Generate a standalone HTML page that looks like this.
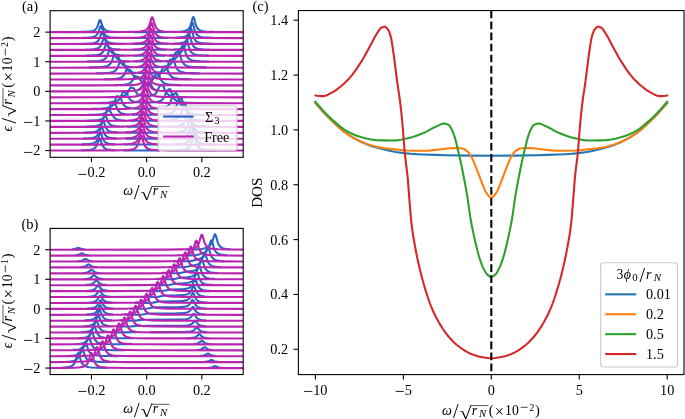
<!DOCTYPE html>
<html lang="en"><head><meta charset="utf-8"><title>Figure</title>
<style>html,body{margin:0;padding:0;background:#fff}svg{display:block;will-change:transform}</style></head>
<body>
<svg width="685" height="419" viewBox="0 0 685 419" font-family='"Liberation Serif", "DejaVu Serif", serif' fill="#000">
<rect width="685" height="419" fill="#fff"/>
<clipPath id="ca"><rect x="50.1" y="10.7" width="193.1" height="146.6"/></clipPath>
<g clip-path="url(#ca)" fill="none" stroke-width="2.15" stroke-linejoin="round">
<path d="M81,150.3L86.4,150.1L90,149.8L91.3,149.5L92.4,149.2L93.4,148.9L94.2,148.4L94.9,147.9L95.5,147.3L96,146.6L96.4,145.9L97,144.8L97.4,143.8L98.9,139.3L99.3,138.6L99.6,138.4L99.9,138.6L100.3,139.3L101.8,143.8L102.7,145.7L103.5,147L104,147.6L104.6,148.1L105.3,148.6L106.1,149L107.1,149.3L108.2,149.6L110.9,150L114.8,150.2M123.8,150.4L139.2,150.5L159.8,150.4M175.1,150.3L180.4,150L182.4,149.8L184,149.6L185.4,149.3L186.5,148.9L187.5,148.4L188.3,147.9L189,147.2L189.5,146.5L190.1,145.6L190.5,144.8L191.1,143.4L191.5,142.1L193,136.5L193.4,135.6L193.7,135.4L194,135.6L194.4,136.5L195.9,142.1L196.3,143.4L196.9,144.8L197.4,145.9L198,146.7L198.6,147.5L199.3,148.1L200.3,148.7L201.4,149.1L202.6,149.5L204.2,149.7L206,149.9L208.3,150.1L214.8,150.3" stroke="#2a65c4" stroke-width="2.1"/>
<path d="M81.8,144.4L87.1,144.2L90.7,143.9L92,143.6L93.1,143.4L94.1,143L94.9,142.5L95.6,142L96.2,141.5L96.7,140.8L97.3,139.9L98.1,138.1L99.8,133.2L100.2,132.6L100.4,132.5L100.7,132.7L101.1,133.5L102.5,137.6L103.3,139.6L103.8,140.3L104.3,141.1L104.9,141.8L105.4,142.2L106.1,142.7L106.9,143.1L107.9,143.4L109,143.7L111.8,144.1L115.6,144.3M124.3,144.5L139.9,144.5L160.2,144.5M174.5,144.3L179.8,144.1L181.7,143.9L183.2,143.7L184.6,143.4L185.7,143L186.6,142.6L187.5,142L188.2,141.4L188.7,140.7L189.3,139.8L189.8,138.7L190.6,136.3L192.2,130.7L192.6,129.7L192.9,129.5L193,129.5L193.1,129.6L193.5,130.4L195.2,136.4L195.6,137.7L196.2,139.1L196.7,140.1L197.3,140.9L198,141.7L198.6,142.2L199.6,142.8L200.7,143.2L202,143.6L203.5,143.8L205.3,144L207.6,144.2L214,144.4" stroke="#2a65c4" stroke-width="2.1"/>
<path d="M82.9,138.5L88.2,138.3L91.8,138L93.1,137.7L94.2,137.4L95.2,137.1L96,136.6L96.7,136.1L97.3,135.6L97.8,134.9L98.4,134L99.2,132.1L100.9,127.3L101.3,126.7L101.5,126.6L101.8,126.8L102.2,127.6L103.6,131.7L104.4,133.7L104.9,134.4L105.4,135.2L106,135.8L106.5,136.3L107.2,136.8L108,137.2L109,137.5L110,137.7L112.7,138.1L116.6,138.4M125,138.6L140.6,138.6L160.4,138.6M173.5,138.4L178.6,138.2L180.6,138L182.1,137.8L183.5,137.5L184.6,137.1L185.5,136.6L186.4,136.1L187.1,135.4L187.6,134.8L188.2,133.9L188.7,132.8L189.5,130.4L191.1,124.8L191.5,123.8L191.8,123.5L191.9,123.5L192,123.6L192.4,124.5L194.1,130.5L194.5,131.8L195.1,133.1L195.6,134.2L196.2,135L196.9,135.7L197.5,136.3L198.5,136.9L199.6,137.3L200.9,137.6L202.4,137.9L204.2,138.1L206.5,138.3L212.9,138.5" stroke="#2a65c4" stroke-width="2.1"/>
<path d="M84.4,132.6L89.7,132.4L93.3,132L94.7,131.8L95.8,131.5L96.7,131.2L97.5,130.7L98.2,130.2L98.8,129.7L99.3,129L99.9,128.1L100.4,126.9L100.9,125.9L102.4,121.4L102.8,120.8L103.1,120.6L103.3,120.8L103.8,121.6L105.1,125.7L106,127.7L106.8,129.1L107.3,129.8L107.9,130.3L108.6,130.8L109.4,131.2L110.2,131.5L111.3,131.8L114.1,132.2L118,132.4M125.8,132.6L141.4,132.7L160.7,132.7M172.4,132.5L177.4,132.2L179.3,132L180.9,131.8L182.1,131.5L183.2,131.1L184.2,130.6L185,130L185.7,129.3L186.2,128.6L186.8,127.7L187.2,126.8L188,124.4L189.5,118.8L190,117.9L190.2,117.6L190.4,117.6L190.5,117.7L190.9,118.6L192.6,124.6L193,125.9L193.5,127.2L194.1,128.3L194.6,129.1L195.3,129.8L196,130.4L197,131L198.1,131.4L199.3,131.7L200.9,132L202.6,132.2L205,132.4L211.3,132.6" stroke="#2a65c4" stroke-width="2.1"/>
<path d="M86.7,126.6L91.9,126.4L95.5,126.1L96.9,125.9L98,125.6L98.9,125.2L99.8,124.7L100.4,124.2L101,123.7L101.5,122.9L102.1,122L102.9,120.1L104.4,115.6L104.9,114.9L105.1,114.7L105.4,114.9L105.8,115.6L107.3,120L108.2,122L109,123.3L109.5,123.9L110.1,124.4L110.8,124.9L111.6,125.3L112.4,125.6L113.5,125.9L116.2,126.3L119.8,126.5M126.8,126.7L142.1,126.8L160.7,126.7M170.8,126.5L175.6,126.3L177.4,126.1L178.9,125.8L180.2,125.5L181.3,125.1L182.1,124.7L182.9,124.1L183.6,123.4L184.2,122.6L184.7,121.7L185.1,120.7L186,118.3L187.5,112.7L187.9,111.9L188.2,111.7L188.4,111.9L188.9,112.8L190.4,118.4L190.8,119.7L191.3,121.1L191.9,122.2L192.4,123.1L193.1,123.8L193.8,124.4L194.8,125L195.9,125.4L197.1,125.8L198.6,126.1L200.4,126.3L202.8,126.4L209.1,126.7" stroke="#2a65c4" stroke-width="2.1"/>
<path d="M86.5,120.7L93,120.5L95.3,120.4L97.3,120.2L98.8,119.9L100.2,119.6L101.3,119.2L102.2,118.7L103.1,118.1L103.8,117.4L104.3,116.7L104.9,115.8L105.4,114.6L105.8,113.5L107.3,108.7L107.8,107.9L108,107.6L108.2,107.6L108.4,107.7L108.7,108.1L110.2,111.4L113.1,116.2L114,117.3L114.9,118.3L115.6,118.7L116.4,119.2L117.4,119.5L118.4,119.8L119.6,120L121.1,120.2L124.9,120.5M129.3,120.7L143.1,120.8L159.2,120.7M165.4,120.6L170.2,120.3L172.2,120.1L173.7,119.8L175.1,119.5L176.2,119.1L177.1,118.6L178,118L178.5,117.5L179.1,116.8L180,115.3L183.1,109L184.6,104.9L184.9,104.5L185.1,104.3L185.4,104.4L185.8,105.3L186.2,106.7L187.6,112.2L188,113.4L188.6,114.8L189.1,115.9L189.8,117L190.5,117.7L191.3,118.4L192.4,119L193.7,119.5L195.2,119.8L197,120.1L199.2,120.3L202,120.5L209.7,120.7" stroke="#2a65c4" stroke-width="2.1"/>
<path d="M88,114.8L95.3,114.6L100.2,114.2L102,114L103.5,113.7L104.7,113.3L105.8,112.8L106.7,112.2L107.3,111.6L108,110.8L108.6,109.9L109.1,108.9L109.7,107.5L111.3,102.5L111.8,101.8L111.9,101.7L112.2,101.5L112.6,101.7L113.7,103L114.9,104.1L115.3,104.6L115.9,105.6L117.1,108.5L118,110.1L118.9,111.4L119.9,112.3L120.6,112.7L121.4,113.1L122.4,113.5L123.3,113.7L125.8,114.2L129.1,114.5M131.8,114.6L137,114.7L143.9,114.8L151.6,114.7L157.8,114.6M161.4,114.5L165.8,114.2L167.5,114L169,113.7L170.2,113.4L171.3,113L172.3,112.4L173.1,111.9L173.8,111.2L174.4,110.5L174.9,109.7L175.3,108.9L176.2,106.9L177.5,102.9L178.1,101.8L178.5,101.3L179.6,100.1L180.7,98.5L181,98.3L181.1,98.2L181.4,98.4L181.5,98.6L182,99.5L183.6,105.7L184.2,107.4L184.7,108.7L185.4,110L186.1,111L186.9,111.8L187.9,112.5L189,113.1L190.4,113.5L192,113.9L194.1,114.2L196.6,114.4L199.6,114.6L208.3,114.8" stroke="#2a65c4" stroke-width="2.1"/>
<path d="M92.2,108.9L99.8,108.7L104.7,108.3L106.7,108.1L108.2,107.8L109.5,107.4L110.7,106.9L111.5,106.4L112.3,105.7L113,105L113.5,104.2L114.1,103.2L114.7,101.9L116,98L116.4,97L116.9,96.4L117.3,96.2L117.7,96.3L118.7,96.9L119.8,97.2L120,97.4L120.3,97.7L120.9,98.7L122.2,102.1L122.9,103.6L123.9,105L124.4,105.6L125,106.1L125.7,106.6L126.4,107L128,107.6L130.1,108L132.7,108.3M134,108.4L138.5,108.6L144.6,108.7L151.2,108.7L156.4,108.5M158.2,108.4L161.8,108L163.2,107.8L164.4,107.5L165.5,107.2L166.5,106.7L167.3,106.2L168,105.7L168.7,105L169.3,104.3L169.8,103.4L170.2,102.6L171.1,100.4L172.4,96.1L173,94.9L173.3,94.5L173.5,94.3L174.6,93.9L175.6,93.2L176,93L176.3,93.1L176.4,93.3L176.9,94.1L177.3,95.3L178.8,100.6L179.3,102.1L179.9,103.3L180.6,104.4L181.3,105.3L182.1,106L183.1,106.6L184.3,107.2L185.7,107.6L187.5,108L189.5,108.3L192,108.5L195.2,108.7L204.2,108.9" stroke="#2a65c4" stroke-width="2.1"/>
<path d="M99.9,102.9L106.8,102.8L111.5,102.4L113.1,102.2L114.7,101.9L115.9,101.6L117,101.1L117.8,100.7L118.5,100.2L119.2,99.5L119.8,98.8L120.3,97.9L120.9,96.8L122.5,92.8L122.8,92.3L123.1,92L123.5,91.8L123.9,91.9L124.9,92.4L126,92.7L126.2,92.9L126.5,93.1L127.1,94L128.3,96.7L129,98L129.8,99.2L130.8,100.2L131.8,100.8L132.9,101.3L134.2,101.8L135.9,102.1M136.3,102.1L138.1,102.3L140.2,102.5L145.3,102.6L150.8,102.5L155.1,102.2M155.6,102.2L157.8,101.8L159.6,101.3L161,100.7L161.7,100.2L162.2,99.8L163.2,98.7L163.8,97.9L164.2,97.1L164.9,95.6L166.2,91.8L166.8,90.7L167.1,90.4L167.3,90.2L168.4,89.8L169.4,89.2L169.8,89.1L170.1,89.2L170.2,89.3L170.5,89.7L170.8,90.3L172.4,95.3L173,96.7L173.5,97.8L174.2,98.8L174.9,99.6L175.8,100.3L176.6,100.8L177.8,101.4L179.2,101.8L180.9,102.1L182.8,102.4L185.1,102.6L188,102.7L196.2,103" stroke="#2a65c4" stroke-width="2.1"/>
<path d="M109.1,97L115.2,96.8L119.3,96.5L122.2,96.1L123.5,95.7L124.4,95.4L125.3,95L126,94.5L126.7,93.9L127.2,93.3L128.2,91.8L130,88.2L130.4,87.7L130.7,87.5L130.9,87.4L131.2,87.5L132.3,87.9L133.3,88.1L133.8,88.5L134.4,89.2L135.9,91.9L136.9,93.3L137.4,93.9L138.1,94.4L138.8,94.9L139.5,95.2L140.6,95.5L141.8,95.8L143.2,96L144.9,96.1L146.7,96.1L148.4,96L150.1,95.9L151.5,95.6L152.7,95.3L153.8,94.8L154.6,94.3L155.5,93.6L156.3,92.7L157,91.6L157.7,90.1L158.8,87.6L159.2,86.8L159.5,86.4L159.8,86.2L160,86L161,85.8L162.1,85.2L162.4,85.1L162.6,85.2L162.9,85.4L163.3,86L165.1,90.6L165.7,91.7L166.2,92.6L166.8,93.3L167.5,94L168.3,94.7L169.1,95.1L170.2,95.6L171.5,95.9L173,96.2L174.8,96.5L179.6,96.8L186.6,97" stroke="#2a65c4" stroke-width="2.1"/>
<path d="M138.4,89.8L139.1,89.5L139.6,89.1L140.6,88.3L141.4,87.1L142.8,84.8L143.3,84.2L143.6,84L144,84.1L144.3,84.3L145.3,85.3L145.7,85.7L146.2,85.9L146.7,85.9L147.1,85.7L147.5,85.4L148,84.7L149,83.2L149.4,82.8L149.7,82.7L150,82.8L150.4,83.3L152,86.6L152.6,87.5L153.1,88.2L153.8,88.9L154.5,89.4L155.3,89.8L156.4,90.2" stroke="#2a65c4" stroke-width="2.1"/>
<path d="M114,85.1L119.8,85L123.9,84.7L126.8,84.2L128,83.9L129,83.5L129.7,83.2L130.4,82.8L131.1,82.3L131.6,81.7L132.2,81L132.7,80.1L134.4,76.9L134.9,76.3L135.3,76.1L135.8,76.2L136.7,76.5L137.8,76.7L138.4,77.1L138.9,77.7L140.3,80L141,81L141.8,81.8L142.8,82.5L144,83L145.4,83.2L146.9,83.2L148.4,83L149.4,82.7L150.2,82.3L151.1,81.6L151.8,80.9L152.7,79.5L154.4,76L154.8,75.4L155.1,75.1L155.5,74.8L156.6,74.5L157.5,74.1L158,74L158.4,74.2L158.6,74.5L158.9,75L160.6,78.9L161.1,80L161.7,80.9L162.2,81.6L162.9,82.3L163.6,82.8L164.4,83.2L165.5,83.7L166.8,84.1L168.3,84.4L170,84.6L174.4,84.9L181,85.1" stroke="#2a65c4" stroke-width="2.1"/>
<path d="M104.4,79.3L111.1,79.1L115.5,78.8L117.1,78.6L118.7,78.3L119.9,78L120.9,77.6L121.7,77.2L122.4,76.7L123.1,76.1L123.6,75.5L124.2,74.7L124.7,73.7L126.5,69.8L126.9,69.2L127.2,69.1L127.5,69L127.9,69.1L128.7,69.5L129.8,69.8L130.4,70.1L130.7,70.5L131.1,71.1L132.2,73.4L132.9,74.6L133.7,75.7L134.5,76.5L135.3,77.1L136.4,77.6L137.5,77.9L138.9,78.2M139.2,78.3L141.3,78.5L143.9,78.7L146.8,78.7L149.5,78.6L151.8,78.4L153.7,78.2L155.2,77.8L156.6,77.3L157.5,76.8L158.4,76.2L159.1,75.6L159.8,74.7L160.7,72.9L162.2,69.2L162.6,68.3L162.9,67.9L163.2,67.6L163.5,67.5L164.6,67.1L165.4,66.6L165.8,66.5L166.1,66.6L166.4,66.8L166.8,67.5L168.6,72.3L169.1,73.6L169.7,74.6L170.2,75.3L170.9,76.1L171.8,76.8L172.6,77.3L173.7,77.7L174.9,78.1L176.4,78.4L178.4,78.7L183.3,79L190.8,79.3" stroke="#2a65c4" stroke-width="2.1"/>
<path d="M96,73.4L103.3,73.2L108.2,72.8L110.1,72.6L111.6,72.3L112.9,71.9L114,71.5L114.8,71L115.6,70.4L116.3,69.6L116.9,68.9L117.4,67.9L118,66.7L119.6,62.5L120,61.8L120.3,61.6L120.6,61.5L121,61.6L122,62.2L123.1,62.5L123.5,62.8L123.8,63.2L124.2,63.9L125.4,66.9L126.2,68.5L127.2,69.8L128.2,70.7L128.9,71.2L129.5,71.5L131.2,72.1L133.3,72.5L135.9,72.8M137.3,72.9L142.4,73.1L148.6,73.1L153.8,72.9L157.8,72.6M158.5,72.6L160.9,72.1L162.6,71.6L164,70.9L164.7,70.4L165.3,69.9L166.2,68.7L166.8,67.8L167.2,67L167.9,65.3L169.1,61.6L169.7,60.4L170,60L170.2,59.8L171.3,59.4L172.3,58.8L172.7,58.6L173,58.7L173.3,59L173.7,59.8L175.5,65.5L176,66.9L176.6,68L177.3,69.1L178,69.9L178.8,70.6L179.6,71.2L180.9,71.7L182.2,72.1L183.9,72.5L185.8,72.8L188.3,73L191.2,73.1L199.6,73.4" stroke="#2a65c4" stroke-width="2.1"/>
<path d="M89.1,67.4L97.1,67.2L102.2,66.9L104.2,66.6L105.7,66.3L107.1,65.9L108.2,65.5L109,65L109.8,64.3L110.5,63.5L111.1,62.7L111.6,61.7L112.2,60.4L114,55.2L114.4,54.5L114.7,54.2L114.9,54.2L115.3,54.3L116.3,55L117.4,55.4L117.8,55.8L118.1,56.2L118.5,57.1L119.9,60.6L120.7,62.3L121.7,63.7L122.2,64.3L122.9,64.9L123.8,65.4L124.6,65.8L125.5,66.1L126.7,66.4L129.4,66.8L133.3,67.1M136.2,67.2L142.2,67.3L149.3,67.3L155.3,67.2L159.9,67M161.4,66.9L164.6,66.5L166,66.3L167.1,66L168,65.7L169,65.2L169.8,64.7L170.5,64.1L171.2,63.4L171.8,62.6L172.3,61.7L172.7,60.8L173.5,58.5L174.8,54.5L175.3,53.2L175.6,52.7L175.9,52.5L177,52L178,51.1L178.4,50.9L178.6,51L178.9,51.3L179.3,52.2L181.1,58.7L181.7,60.3L182.2,61.5L182.9,62.7L183.6,63.6L184.4,64.4L185.4,65.1L186.6,65.7L188,66.2L189.8,66.5L191.9,66.8L194.5,67.1L197.7,67.2L206.6,67.4" stroke="#2a65c4" stroke-width="2.1"/>
<path d="M86.8,61.5L94,61.3L96.6,61.2L98.7,61L100.4,60.7L101.8,60.4L103.1,60L104,59.5L104.9,59L105.5,58.3L106.2,57.5L106.8,56.6L107.3,55.5L107.8,54.4L109.4,49.4L109.8,48.6L110,48.4L110.2,48.3L110.5,48.4L110.8,48.7L112,50.7L113.1,52L113.5,52.6L114.1,53.6L115.3,56.2L116,57.3L116.9,58.3L117.8,59.2L118.7,59.7L119.5,60L120.6,60.4L121.8,60.7L124.9,61.1L129.1,61.3M134.7,61.5L150.2,61.5L157.1,61.5L162.4,61.3M165.3,61.2L169.1,60.8L170.6,60.6L171.9,60.3L173,60L174,59.6L174.8,59.1L175.6,58.4L176.4,57.5L177.3,56.3L178,54.8L179.2,51.6L179.8,50.4L180.2,49.7L181.3,48L182.5,45.5L182.8,45.1L183.1,45L183.3,45.1L183.5,45.3L183.9,46.3L185.5,52.6L186.1,54.3L186.6,55.7L187.2,56.7L187.9,57.7L188.7,58.6L189.5,59.2L190.6,59.8L192,60.3L193.5,60.6L195.5,60.9L197.8,61.1L200.7,61.3L208.9,61.5" stroke="#2a65c4" stroke-width="2.1"/>
<path d="M86.4,55.6L92.3,55.4L96.3,55.1L97.8,54.8L99.1,54.5L100.2,54.1L101,53.7L101.7,53.2L102.4,52.5L102.9,51.8L103.5,50.9L104,49.7L104.4,48.6L106,44L106.4,43.2L106.7,43.1L106.9,43.2L107.3,43.8L108.9,47.7L109.4,48.9L110,49.8L110.8,51.1L111.6,52.2L112.3,52.9L113,53.5L113.8,54L114.7,54.3L115.6,54.6L116.9,54.9L119.9,55.3L124.2,55.5M133.1,55.7L151.2,55.7L164.9,55.6M169.7,55.4L173.8,55.1L175.3,54.9L176.7,54.6L177.8,54.3L178.8,53.9L179.6,53.4L180.4,52.8L181.1,52L181.8,51.1L182.6,49.7L183.5,48.1L184.4,45.7L186,40.8L186.4,40L186.6,39.9L186.9,40.1L187.3,41L189,47.3L189.4,48.6L190,50L190.5,51L191.1,51.9L191.8,52.7L192.6,53.3L193.5,53.9L194.6,54.3L196,54.7L197.7,55L199.6,55.2L202.1,55.4L209,55.6" stroke="#2a65c4" stroke-width="2.1"/>
<path d="M85.3,49.7L90.7,49.5L94.2,49.2L95.6,48.9L96.9,48.6L97.8,48.3L98.7,47.8L99.3,47.3L99.9,46.8L100.4,46.1L101,45.2L101.8,43.3L103.5,38.5L103.9,37.9L104.2,37.8L104.4,38L104.9,38.8L106.2,42.9L107.1,44.9L107.5,45.6L108,46.4L108.6,47L109.3,47.6L110.1,48.1L110.9,48.5L111.9,48.8L113,49L116,49.4L120.3,49.6M132.4,49.8L152.3,49.8L166.8,49.7M173.3,49.5L177.5,49.2L179.1,49L180.4,48.8L181.5,48.5L182.5,48.1L183.3,47.6L184.2,46.9L184.7,46.3L185.3,45.6L185.8,44.6L186.2,43.6L187.1,41.2L188.4,36L188.9,35L189.1,34.7L189.3,34.7L189.4,34.8L189.8,35.6L191.5,41.7L191.9,42.9L192.4,44.3L193,45.4L193.5,46.2L194.2,46.9L194.9,47.5L195.8,48L196.9,48.5L198.1,48.8L199.6,49.1L201.4,49.3L203.6,49.5L209.8,49.7" stroke="#2a65c4" stroke-width="2.1"/>
<path d="M83.5,43.8L89,43.6L92.6,43.2L94,43L95.1,42.7L96,42.3L96.9,41.9L97.5,41.4L98.1,40.8L98.7,40.1L99.2,39.2L100,37.3L101.5,32.8L102,32L102.2,31.8L102.5,32L102.9,32.6L104.4,37.1L104.9,38.2L105.4,39.3L105.8,40L106.4,40.7L106.9,41.3L107.5,41.7L108.3,42.2L109.1,42.6L110.1,42.9L111.3,43.1L114.4,43.5L118.8,43.7M132.6,43.9L153,43.9L167.6,43.8M174.8,43.6L179.2,43.3L180.9,43.1L182.2,42.9L183.3,42.5L184.3,42.2L185.1,41.7L186,41L186.5,40.5L187.1,39.7L187.6,38.7L188,37.8L188.9,35.4L190.4,29.8L190.8,29L190.9,28.8L191.1,28.8L191.3,29L191.8,30L193.3,35.6L193.7,36.9L194.2,38.3L194.8,39.4L195.3,40.2L196,41L196.7,41.6L197.5,42.1L198.6,42.5L199.9,42.9L201.4,43.2L203.2,43.4L205.4,43.5L211.8,43.8" stroke="#2a65c4" stroke-width="2.1"/>
<path d="M82.1,37.9L87.5,37.7L91.1,37.3L92.4,37.1L93.7,36.8L94.7,36.4L95.5,36L96.2,35.5L96.7,35L97.3,34.3L97.8,33.4L98.4,32.2L98.8,31.2L100.3,26.7L100.7,26L101,25.9L101.3,26.1L101.7,26.9L103.2,31.4L104,33.3L104.4,34L105,34.7L105.5,35.3L106.1,35.8L106.9,36.3L107.8,36.6L108.7,36.9L110,37.2L113.1,37.6L117.7,37.8M132.9,38L153.7,38L168.3,37.9M175.9,37.7L180.3,37.4L182,37.2L183.3,37L184.6,36.7L185.5,36.3L186.4,35.8L187.2,35.2L187.8,34.6L188.3,33.9L188.9,33L189.3,32.1L190.1,29.7L191.6,24.1L192,23.1L192.3,22.9L192.4,22.9L192.6,23L193,23.9L194.6,29.9L195.1,31.2L195.6,32.5L196.2,33.6L196.7,34.4L197.4,35.1L198.1,35.7L199.1,36.2L200.2,36.7L201.4,37L202.9,37.3L204.7,37.5L206.9,37.6L213.1,37.9" stroke="#2a65c4" stroke-width="2.1"/>
<path d="M81.1,31.9L86.5,31.7L90.1,31.4L91.5,31.2L92.7,30.9L93.7,30.5L94.5,30.1L95.2,29.6L95.8,29.1L96.3,28.4L96.9,27.5L97.4,26.4L97.8,25.3L99.3,20.8L99.8,20.1L100,20L100.3,20.2L100.7,20.9L102.2,25.4L103.1,27.3L103.5,28L104,28.8L104.6,29.4L105.3,29.9L106.1,30.4L106.9,30.8L108,31.1L109.3,31.3L112.4,31.7L117,31.9M133.3,32.1L154.4,32.1L169,32M176.9,31.8L181.3,31.5L182.9,31.3L184.3,31.1L185.5,30.7L186.5,30.3L187.3,29.9L188.2,29.3L188.7,28.7L189.3,28L189.8,27L190.2,26.1L191.1,23.7L192.6,18.1L193,17.2L193.3,17L193.5,17.1L194,18L195.5,23.6L195.9,24.9L196.4,26.3L197,27.4L197.5,28.3L198.2,29.1L198.9,29.7L199.9,30.3L201,30.7L202.2,31.1L203.8,31.3L205.5,31.5L207.8,31.7L214.1,31.9" stroke="#2a65c4" stroke-width="2.1"/>
<path d="M50.1,150.5L94.9,150.5L114.8,150.4L120.9,150.3L125.1,150.2L128.3,150L130.8,149.6L132.9,149.2L133.7,148.9L134.5,148.5L135.2,148.1L135.8,147.7L136.3,147.1L136.9,146.5L137.5,145.3L138.2,143.8L138.9,141.8L140.3,137L140.7,136L141,135.6L141.1,135.6L141.3,135.6L141.5,136L142,137L143.3,141.8L144,143.8L144.7,145.3L145.5,146.7L146.1,147.3L146.7,147.8L147.3,148.3L148,148.7L149.7,149.3L151.9,149.7L154.5,150L158,150.2L162.6,150.3L169.3,150.4L191.5,150.5L243.2,150.5" stroke="#ba24b0"/>
<path d="M50.1,144.6L95.3,144.6L115.3,144.5L121.4,144.4L125.7,144.2L128.9,144L131.3,143.7L133.4,143.3L134.2,143L135.1,142.6L135.8,142.2L136.3,141.8L136.9,141.2L137.4,140.5L138.1,139.4L138.8,137.9L139.5,135.9L140.9,131L141.3,130L141.5,129.7L141.7,129.7L141.8,129.7L142.1,130L142.5,131L143.9,135.9L144.6,137.9L145.3,139.4L146.1,140.7L146.7,141.4L147.2,141.9L147.9,142.4L148.6,142.7L150.2,143.3L152.4,143.8L155.1,144.1L158.5,144.3L163.2,144.4L169.8,144.5L191.9,144.6L243.2,144.6" stroke="#ba24b0"/>
<path d="M50.1,138.7L95.8,138.7L115.8,138.6L121.7,138.5L126.1,138.3L129.4,138.1L131.9,137.8L134,137.3L134.8,137.1L135.6,136.7L136.3,136.3L136.9,135.8L137.4,135.3L138,134.6L138.7,133.5L139.3,132L140,130L141.4,125.1L141.8,124.1L142.1,123.8L142.2,123.8L142.4,123.8L142.7,124.1L143.1,125.1L144.4,130L145.1,132L145.8,133.5L146.7,134.8L147.2,135.5L147.8,136L148.4,136.4L149.1,136.8L150.8,137.4L153,137.9L155.6,138.2L159.1,138.4L163.8,138.5L170.2,138.6L192.2,138.7L243.2,138.7" stroke="#ba24b0"/>
<path d="M50.1,132.8L96.2,132.7L116.3,132.6L122.2,132.6L126.7,132.4L130,132.2L132.4,131.9L134.5,131.4L135.3,131.1L136.2,130.8L136.9,130.3L137.4,129.9L138,129.4L138.5,128.7L139.2,127.6L139.9,126.1L140.6,124L142,119.2L142.4,118.2L142.7,117.9L142.8,117.8L142.9,117.9L143.2,118.2L143.6,119.2L145,124L145.7,126.1L146.4,127.6L147.2,128.9L147.8,129.5L148.3,130L149,130.5L149.7,130.9L151.3,131.5L153.5,132L156.2,132.2L159.6,132.4L164.3,132.6L170.8,132.7L192.6,132.7L243.2,132.8" stroke="#ba24b0"/>
<path d="M50.1,126.9L96.3,126.8L116.6,126.7L122.7,126.6L127.1,126.5L130.4,126.3L132.9,126L134.9,125.5L135.8,125.3L136.6,124.9L137.3,124.5L137.8,124.1L138.4,123.6L138.9,123L139.8,121.7L140.4,120.1L141.1,118.1L142.5,113.3L142.9,112.3L143.2,112L143.3,111.9L143.5,112L143.8,112.3L144.2,113.3L145.5,118.1L146.2,120.1L146.9,121.7L147.8,123L148.3,123.6L148.9,124.1L149.5,124.6L150.2,125L151.9,125.6L154.1,126L156.7,126.3L160.2,126.5L164.9,126.7L171.2,126.7L192.9,126.8L243.2,126.9" stroke="#ba24b0"/>
<path d="M50.1,120.9L96.6,120.9L117,120.8L123.2,120.7L127.6,120.6L130.9,120.4L133.4,120.1L135.5,119.6L136.3,119.4L137.1,119L137.8,118.6L138.4,118.2L138.9,117.7L139.5,117.1L140.3,115.7L141,114.2L141.7,112.2L143.1,107.4L143.5,106.4L143.8,106L143.9,106L144,106L144.3,106.4L144.7,107.4L146.1,112.2L146.8,114.2L147.5,115.7L148.3,117.1L148.9,117.7L149.4,118.2L150.1,118.7L150.8,119.1L152.4,119.7L154.5,120.1L157.1,120.4L160.4,120.6L165,120.7L171.5,120.8L193,120.9L243.2,120.9" stroke="#ba24b0"/>
<path d="M50.1,115L97,115L117.5,114.9L123.8,114.8L128.2,114.7L131.5,114.4L134,114.2L136,113.7L136.9,113.4L137.7,113.1L138.4,112.7L138.9,112.3L139.5,111.8L140,111.1L140.9,109.8L141.5,108.3L142.2,106.3L143.6,101.4L144,100.4L144.3,100.1L144.4,100.1L144.6,100.1L144.9,100.4L145.3,101.4L146.7,106.3L147.3,108.3L148,109.8L148.9,111.1L149.4,111.8L150,112.3L150.6,112.8L151.3,113.1L153,113.7L155.1,114.2L157.7,114.5L161,114.7L165.5,114.8L172,114.9L193.5,115L243.2,115" stroke="#ba24b0"/>
<path d="M50.1,109.1L97.4,109.1L118.1,109L124.3,108.9L128.7,108.7L132,108.5L134.5,108.2L136.6,107.8L137.4,107.5L138.2,107.2L138.9,106.8L139.5,106.4L140,105.9L140.6,105.2L141.4,103.9L142.1,102.4L142.8,100.4L144.2,95.5L144.6,94.5L144.9,94.2L145,94.2L145.1,94.2L145.4,94.5L145.8,95.5L147.2,100.4L147.9,102.4L148.6,103.9L149.4,105.2L150,105.9L150.5,106.4L151.2,106.8L151.9,107.2L153.5,107.8L155.6,108.3L158.2,108.5L161.5,108.7L166.1,108.9L172.6,109L194,109.1L243.2,109.1" stroke="#ba24b0"/>
<path d="M50.1,103.2L97.7,103.1L118.5,103.1L124.7,103L129.3,102.8L132.6,102.6L135.1,102.3L137.1,101.9L138,101.6L138.8,101.2L139.5,100.8L140,100.4L140.6,99.9L141.1,99.3L142,98L142.7,96.5L143.3,94.4L144.7,89.6L145.1,88.6L145.4,88.3L145.5,88.2L145.7,88.3L146,88.6L146.4,89.6L147.8,94.4L148.4,96.5L149.1,98L150,99.3L150.5,99.9L151.1,100.4L151.8,100.9L152.4,101.3L154.1,101.9L156.2,102.3L158.8,102.6L162.1,102.8L166.6,103L173,103.1L194.2,103.1L243.2,103.2" stroke="#ba24b0"/>
<path d="M50.1,97.3L98.2,97.2L119.1,97.1L125.3,97L129.8,96.9L133.1,96.7L135.6,96.4L137.7,95.9L138.5,95.7L139.3,95.3L140,94.9L140.6,94.5L141.1,94L141.7,93.4L142.5,92.1L143.2,90.5L143.9,88.5L145.3,83.7L145.7,82.7L146,82.4L146.1,82.3L146.2,82.4L146.5,82.7L146.9,83.7L148.3,88.5L149,90.5L149.7,92.1L150.5,93.4L151.1,94L151.6,94.5L152.3,95L153,95.4L154.6,96L156.7,96.4L159.3,96.7L162.6,96.9L167.2,97L173.5,97.1L194.6,97.2L243.2,97.3" stroke="#ba24b0"/>
<path d="M50.1,91.3L98.4,91.3L119.3,91.2L125.5,91.1L130.1,91L133.4,90.8L136,90.5L138.1,90.1L139.8,89.5L140.4,89.1L141.1,88.6L141.7,88.1L142.2,87.5L143.1,86.1L143.8,84.6L144.4,82.6L145.8,77.8L146.2,76.8L146.5,76.4L146.7,76.4L146.8,76.4L147.1,76.8L147.5,77.8L148.9,82.6L149.5,84.6L150.2,86.1L151.1,87.5L151.6,88.1L152.2,88.6L152.9,89.1L153.5,89.5L155.2,90.1L157.3,90.5L159.9,90.8L163.2,91L167.8,91.1L174,91.2L194.9,91.3L243.2,91.3" stroke="#ba24b0"/>
<path d="M50.1,85.4L98.7,85.4L119.8,85.3L126.1,85.2L130.7,85.1L134,84.9L136.6,84.6L138.7,84.1L140.3,83.5L141,83.2L141.7,82.7L142.2,82.2L142.8,81.5L143.6,80.2L144.3,78.7L145,76.7L146.4,71.8L146.8,70.8L147.1,70.5L147.2,70.5L147.3,70.5L147.6,70.8L148,71.8L149.4,76.7L150.1,78.7L150.8,80.2L151.6,81.5L152.2,82.2L152.7,82.7L153.3,83.1L154,83.5L154.8,83.8L155.6,84.1L157.7,84.6L160.2,84.8L163.5,85.1L168,85.2L174.2,85.3L195.1,85.4L243.2,85.4" stroke="#ba24b0"/>
<path d="M50.1,79.5L99.1,79.5L120.3,79.4L126.7,79.3L131.2,79.1L134.5,78.9L137.1,78.7L139.2,78.2L140.9,77.6L141.5,77.2L142.2,76.8L142.8,76.3L143.3,75.6L144.2,74.3L144.9,72.8L145.5,70.8L146.9,65.9L147.3,64.9L147.6,64.6L147.8,64.6L147.9,64.6L148.2,64.9L148.6,65.9L150,70.8L150.6,72.8L151.3,74.3L152.2,75.6L152.7,76.3L153.3,76.8L153.8,77.2L154.5,77.6L155.3,77.9L156.2,78.2L158.2,78.6L160.7,78.9L164,79.1L168.6,79.3L174.8,79.4L195.6,79.5L243.2,79.5" stroke="#ba24b0"/>
<path d="M50.1,73.6L99.3,73.5L120.7,73.5L127.2,73.4L131.8,73.2L135.1,73L137.7,72.7L139.8,72.3L141.4,71.7L142.1,71.3L142.8,70.8L143.3,70.3L143.9,69.7L144.7,68.4L145.4,66.9L146.1,64.8L147.5,60L147.9,59L148.2,58.7L148.3,58.6L148.4,58.7L148.7,59L149.1,60L150.5,64.8L151.2,66.9L151.9,68.4L152.7,69.7L153.3,70.3L153.8,70.8L154.4,71.2L155.1,71.6L155.9,72L156.7,72.3L158.8,72.7L161.3,73L164.6,73.2L169,73.4L175.2,73.4L195.9,73.5L243.2,73.6" stroke="#ba24b0"/>
<path d="M50.1,67.7L99.8,67.6L121.3,67.5L127.8,67.4L132.3,67.3L135.6,67.1L138.2,66.8L140.3,66.4L142,65.8L142.7,65.4L143.3,64.9L143.9,64.4L144.4,63.8L145.3,62.5L146,60.9L146.7,58.9L148,54.1L148.4,53.1L148.7,52.8L148.9,52.7L149,52.8L149.3,53.1L149.7,54.1L151.1,58.9L151.8,60.9L152.4,62.5L153.3,63.8L153.8,64.4L154.4,64.9L154.9,65.3L155.6,65.7L156.4,66.1L157.3,66.3L159.3,66.8L161.8,67.1L165.1,67.3L169.5,67.4L175.8,67.5L196.3,67.6L243.2,67.7" stroke="#ba24b0"/>
<path d="M50.1,61.7L100.3,61.7L121.8,61.6L128.3,61.5L132.9,61.4L136.2,61.2L138.8,60.9L140.9,60.5L142.5,59.9L143.2,59.5L143.9,59L144.4,58.5L145,57.9L145.8,56.5L146.5,55L147.2,53L148.6,48.2L149,47.2L149.3,46.8L149.4,46.8L149.5,46.8L149.8,47.2L150.2,48.2L151.6,53L152.3,55L153,56.5L153.8,57.9L154.4,58.5L154.9,59L155.5,59.4L156.2,59.8L157,60.2L157.8,60.4L159.9,60.9L162.4,61.2L165.7,61.4L170.1,61.5L176.3,61.6L196.7,61.7L243.2,61.7" stroke="#ba24b0"/>
<path d="M50.1,55.8L100.4,55.8L122.1,55.7L128.4,55.6L133.1,55.5L136.6,55.3L139.2,55L141.4,54.5L143.1,53.9L143.8,53.6L144.4,53.1L145,52.6L145.5,51.9L146.4,50.6L147.1,49.1L147.8,47.1L149.1,42.2L149.5,41.2L149.8,40.9L150,40.9L150.1,40.9L150.4,41.2L150.8,42.2L152.2,47.1L152.9,49.1L153.5,50.6L154.4,51.9L154.9,52.6L155.5,53.1L156,53.5L156.7,53.9L157.5,54.2L158.4,54.5L160.4,55L162.9,55.2L166.2,55.5L170.6,55.6L176.7,55.7L197,55.8L243.2,55.8" stroke="#ba24b0"/>
<path d="M50.1,49.9L100.7,49.9L122.5,49.8L129,49.7L133.7,49.6L137.1,49.4L139.8,49.1L142,48.6L143.6,48L144.3,47.6L145,47.2L145.5,46.7L146.1,46L146.9,44.7L147.6,43.2L148.3,41.2L149.7,36.3L150.1,35.3L150.4,35L150.5,35L150.6,35L150.9,35.3L151.3,36.3L152.7,41.2L153.4,43.2L154.1,44.7L154.8,45.8L155.3,46.5L155.9,47L156.4,47.5L157.1,47.9L158,48.3L158.8,48.5L160.9,49L163.3,49.3L166.6,49.5L171.1,49.7L177,49.8L197.1,49.9L243.2,49.9" stroke="#ba24b0"/>
<path d="M50.1,44L101.1,43.9L123.1,43.9L129.5,43.8L134.2,43.6L137.7,43.4L140.3,43.2L142.5,42.7L144.2,42.1L144.9,41.7L145.5,41.2L146.1,40.7L146.7,40.1L147.5,38.8L148.2,37.3L148.9,35.2L150.2,30.4L150.6,29.4L150.9,29.1L151.1,29L151.2,29.1L151.5,29.4L151.9,30.4L153.3,35.2L154,37.3L154.6,38.8L155.3,39.9L155.9,40.6L156.4,41.1L157,41.5L157.7,42L158.5,42.3L159.3,42.6L161.4,43.1L163.9,43.4L167.2,43.6L171.6,43.8L177.5,43.8L197.5,43.9L243.2,44" stroke="#ba24b0"/>
<path d="M50.1,38.1L101.4,38L123.5,37.9L130.1,37.9L134.8,37.7L138.2,37.5L140.9,37.2L143.1,36.8L144.7,36.2L145.4,35.8L146.1,35.3L146.7,34.8L147.2,34.2L148,32.9L148.7,31.3L149.4,29.3L150.8,24.5L151.2,23.5L151.5,23.2L151.6,23.1L151.8,23.2L152,23.5L152.4,24.5L153.8,29.3L154.5,31.3L155.2,32.9L155.9,34L156.4,34.7L157,35.2L157.5,35.6L158.2,36L159.1,36.4L159.9,36.7L162,37.2L164.4,37.5L167.6,37.7L171.9,37.8L178,37.9L198,38L243.2,38.1" stroke="#ba24b0"/>
<path d="M50.1,32.1L101.8,32.1L124,32L130.7,31.9L135.3,31.8L138.8,31.6L141.4,31.3L143.6,30.9L145.3,30.3L146,29.9L146.7,29.4L147.2,28.9L147.8,28.3L148.6,26.9L149.3,25.4L150,23.4L151.3,18.6L151.8,17.6L152,17.2L152.2,17.2L152.3,17.2L152.6,17.6L153,18.6L154.4,23.4L155.1,25.4L155.8,26.9L156.4,28.1L157,28.7L157.5,29.3L158.1,29.7L158.8,30.1L159.6,30.5L160.4,30.8L162.5,31.2L165,31.6L168.2,31.8L172.4,31.9L178.5,32L198.4,32.1L243.2,32.1" stroke="#ba24b0"/>
</g>
<rect x="50.1" y="10.7" width="193.1" height="146.6" fill="none" stroke="#000" stroke-width="1.1"/>
<line x1="91.48" y1="157.3" x2="91.48" y2="162.16" stroke="#000" stroke-width="1.1"/>
<text x="91.48" y="177" text-anchor="middle" font-size="14.3" ><tspan font-size="17.6" dy="2.5">−</tspan><tspan dy="-2.5">0.2</tspan></text>
<line x1="146.65" y1="157.3" x2="146.65" y2="162.16" stroke="#000" stroke-width="1.1"/>
<text x="146.65" y="177" text-anchor="middle" font-size="14.3" >0.0</text>
<line x1="201.82" y1="157.3" x2="201.82" y2="162.16" stroke="#000" stroke-width="1.1"/>
<text x="201.82" y="177" text-anchor="middle" font-size="14.3" >0.2</text>
<line x1="45.24" y1="150.55" x2="50.1" y2="150.55" stroke="#000" stroke-width="1.1"/>
<text x="40.3" y="155.45" text-anchor="end" font-size="14.3" ><tspan font-size="17.6" dy="2.5">−</tspan><tspan dy="-2.5">2</tspan></text>
<line x1="45.24" y1="120.95" x2="50.1" y2="120.95" stroke="#000" stroke-width="1.1"/>
<text x="40.3" y="125.85" text-anchor="end" font-size="14.3" ><tspan font-size="17.6" dy="2.5">−</tspan><tspan dy="-2.5">1</tspan></text>
<line x1="45.24" y1="91.35" x2="50.1" y2="91.35" stroke="#000" stroke-width="1.1"/>
<text x="40.3" y="96.25" text-anchor="end" font-size="14.3" >0</text>
<line x1="45.24" y1="61.75" x2="50.1" y2="61.75" stroke="#000" stroke-width="1.1"/>
<text x="40.3" y="66.65" text-anchor="end" font-size="14.3" >1</text>
<line x1="45.24" y1="32.15" x2="50.1" y2="32.15" stroke="#000" stroke-width="1.1"/>
<text x="40.3" y="37.05" text-anchor="end" font-size="14.3" >2</text>
<text x="30" y="11" text-anchor="middle" font-size="14.5" >(a)</text>
<text><tspan x="123.17" y="195.4" font-size="13.9" font-style="italic">ω</tspan><tspan x="134.12" y="199.3" font-size="20">/</tspan><tspan x="152.79" y="195.4" font-size="13.9" font-style="italic">r</tspan><tspan x="160.09" y="198" font-size="10.8" font-style="italic">N</tspan></text>
<text transform="translate(140.87,199.68) scale(1.54,1.23)" font-size="13.9">√</text>
<line x1="152" y1="186.5" x2="169.4" y2="186.5" stroke="#000" stroke-width="0.65"/>
<g transform="translate(11.9,130.8) rotate(-90)">
<text><tspan x="-0.58" y="0" font-size="13.9" font-style="italic">ϵ</tspan><tspan x="7.42" y="3.9" font-size="20">/</tspan><tspan x="26.09" y="0" font-size="13.9" font-style="italic">r</tspan><tspan x="33.39" y="2.6" font-size="10.8" font-style="italic">N</tspan><tspan x="43.08" y="0" font-size="14.6">(</tspan><tspan x="49.19" y="2.3" font-size="16.5">×</tspan><tspan x="59.31" y="0" font-size="13.6">1</tspan><tspan x="66.45" y="0" font-size="13.6">0</tspan><tspan x="74.26" y="-2.2" font-size="15">−</tspan><tspan x="83.83" y="-4" font-size="9.7">2</tspan><tspan x="89.45" y="0" font-size="14.6">)</tspan></text>
<text transform="translate(14.17,4.28) scale(1.54,1.23)" font-size="13.9">√</text>
<line x1="25.3" y1="-8.9" x2="42.7" y2="-8.9" stroke="#000" stroke-width="0.65"/>
</g>
<rect x="158.1" y="106" width="78.8" height="44.4" rx="2.2" fill="#fff" fill-opacity="0.8" stroke="#cacaca" stroke-width="1.15"/>
<line x1="163.1" y1="116.6" x2="193.7" y2="116.6" stroke="#2a65c4" stroke-width="2.08"/>
<line x1="163.1" y1="136.5" x2="193.7" y2="136.5" stroke="#ba24b0" stroke-width="2.08"/>
<text><tspan x="205.05" y="121.6" font-size="14.2">Σ</tspan><tspan x="214.35" y="123.7" font-size="10.6">3</tspan></text>
<text x="204.2" y="141.7" text-anchor="start" font-size="14.2" >Free</text>
<clipPath id="cb"><rect x="50.1" y="228.4" width="193.1" height="146.15"/></clipPath>
<g clip-path="url(#cb)" fill="none" stroke-width="2.15" stroke-linejoin="round">
<path d="M62.5,367.7L66.5,367.3L68,367.1L69.3,366.9L70.4,366.6L71.3,366.2L72.2,365.7L73,365.1L73.5,364.5L74.1,363.8L74.7,362.9L75.1,362L75.9,359.8L77.5,354.1L78,353.3L78.2,353.1L78.5,353.3L78.9,354L80.7,360.2L81.3,361.6L81.8,362.8L82.5,364L83.2,364.8L84,365.5L85,366.1L86.2,366.6L87.6,367L89.4,367.3L91.5,367.5L97.4,367.8L107.2,367.9M208.6,367.8L210.2,367.6L211.6,367.3L212.7,367L214.4,366.2L215.1,366.1L215.8,366.2L217.4,367L218.5,367.3L219.9,367.6L221.5,367.8" stroke="#2a65c4" stroke-width="2.1"/>
<path d="M66.1,361.7L70.1,361.5L71.6,361.2L73,361L74.1,360.7L75.1,360.3L75.9,359.8L76.7,359.1L77.3,358.6L77.8,357.8L78.7,356.3L79.2,355L79.6,353.8L81.1,348.6L81.5,347.7L81.8,347.5L82,347.5L82.2,347.7L82.7,348.6L84.3,354.2L84.9,355.7L85.4,356.9L86.1,358L86.9,359L87.8,359.7L88.9,360.3L90.1,360.8L91.6,361.1L93.4,361.4L95.8,361.6L102.2,361.9L113,362M204.4,361.9L206.4,361.7L207.9,361.3L209,360.9L210.6,360.1L211.3,359.9L211.8,359.9L212.2,360.1L213.8,360.9L215.1,361.4L216.4,361.7L218.4,361.9" stroke="#2a65c4" stroke-width="2.1"/>
<path d="M69.4,355.8L73.5,355.5L75.1,355.3L76.4,355.1L77.5,354.8L78.5,354.4L79.3,353.9L80.2,353.3L80.7,352.7L81.3,352L81.8,351.1L82.2,350.3L83.1,348.1L84.6,343L85,342.2L85.3,341.9L85.5,342L86,342.7L86.4,343.8L87.9,348.9L88.6,350.6L89.3,351.8L90.1,352.9L91.1,353.7L92.2,354.4L93.5,354.9M94.1,355L95.5,355.3L97.1,355.5L101.5,355.9L108.2,356L118.9,356.1M200.4,355.9L202.6,355.7L204.3,355.3L205.5,354.8L207.2,353.8L207.9,353.6L208.6,353.7L210.5,354.9L211.8,355.4L213.3,355.7L215.5,355.9" stroke="#2a65c4" stroke-width="2.1"/>
<path d="M72.6,349.9L76.7,349.7L78.2,349.5L79.6,349.2L80.7,348.9L81.7,348.5L82.5,348.1L83.3,347.5L83.9,347L84.4,346.3L85,345.4L85.4,344.6L86.2,342.5L87.8,337.6L88.2,336.7L88.4,336.4L88.6,336.4L88.9,336.6L89.3,337.4L91.2,343.4L91.9,345L92.6,346.2L93.5,347.3L94.7,348.1L96,348.8L97.7,349.2M98.5,349.4L101.8,349.8L106.5,350L113.5,350.2L124.7,350.2M196.6,350L199.1,349.8L200.9,349.4L201.5,349.1L202.2,348.7L204,347.5L204.4,347.3L204.7,347.3L205,347.3L205.4,347.5L207.3,348.8L208,349.1L208.7,349.4L210.5,349.8L213,350" stroke="#2a65c4" stroke-width="2.1"/>
<path d="M75.6,344L79.6,343.8L81.1,343.6L82.5,343.3L83.6,343L84.6,342.7L85.4,342.3L86.2,341.7L86.8,341.2L87.3,340.6L87.9,339.7L88.3,339L89.1,337L90.8,331.9L91.2,331.1L91.5,331L91.6,331L91.9,331.3L92.3,332.2L93.7,336.5L94.4,338.3L95.1,339.7L95.8,340.7L96.7,341.7L97.3,342.1L98,342.5L99.5,343.1L101.4,343.5M102.9,343.7L106.5,344L111.6,344.2L130.5,344.3M193,344.1L195.9,343.8L197,343.6L197.8,343.3L198.5,343L199.2,342.6L201.1,341.1L201.5,340.9L201.8,340.9L202.1,340.9L202.5,341.1L204.4,342.6L205.1,343L205.8,343.3L206.6,343.6L207.8,343.8L210.6,344.1" stroke="#2a65c4" stroke-width="2.1"/>
<path d="M78.4,338.1L82.4,337.9L85.1,337.5L86.2,337.2L87.2,336.9L88,336.5L88.9,335.9L89.4,335.4L90,334.8L90.5,334L90.9,333.3L91.8,331.4L93.4,326.5L93.8,325.8L94.1,325.7L94.2,325.7L94.5,326L94.9,326.8L96.3,331L97,332.7L97.7,334L98.5,335.1L99.1,335.7L99.6,336.1L100.3,336.5L101,336.9L102.7,337.4L104.9,337.7M107.3,338L111.3,338.2L117,338.3L133.5,338.3M186.5,338.2L189.4,338.1L191.6,337.9L193.3,337.7L194.5,337.4L195.3,337.1L196.2,336.6L197,336L198.4,334.7L198.8,334.4L199.2,334.3L199.5,334.4L199.9,334.6L201.8,336.4L202.5,336.9L203.3,337.3L204.3,337.6L205.5,337.9L207.1,338.1L208.9,338.2" stroke="#2a65c4" stroke-width="2.1"/>
<path d="M80.9,332.2L84.9,331.9L87.6,331.5L88.7,331.3L89.7,330.9L90.5,330.5L91.2,330L91.8,329.6L92.3,328.9L92.9,328.2L93.3,327.4L94.1,325.5L95.6,321.3L96,320.6L96.3,320.4L96.4,320.4L96.7,320.7L97.1,321.5L98.5,325.4L99.3,327.3L100,328.5L100.9,329.5L101.4,330L102.1,330.5L103.5,331.1L105.3,331.6L107.8,331.9M111.8,332.2L117,332.4L123.2,332.4L125.8,332.4L131.1,332.1L136.3,332.1M150.6,332.1L179.2,332L185.1,331.9L188.9,331.7L190.2,331.5L191.3,331.3L192.3,331L193.1,330.7L193.8,330.3L194.4,329.8L196.3,327.8L196.7,327.6L197,327.6L197.3,327.7L197.7,328L199.2,329.7L199.9,330.4L200.6,330.9L201.3,331.2L202.4,331.6L203.6,331.9L205.3,332.1L207.3,332.3" stroke="#2a65c4" stroke-width="2.1"/>
<path d="M83.1,326.3L86.8,326.1L89.5,325.7L90.5,325.4L91.5,325.1L92.3,324.7L93,324.3L93.5,323.9L94.1,323.3L94.7,322.6L95.1,321.9L95.9,320.1L97.4,316.1L97.8,315.5L98.1,315.3L98.2,315.3L98.5,315.5L98.9,316.2L100.3,319.9L101.1,321.7L102,323L102.8,323.9L103.3,324.3L104,324.8L105.5,325.4L107.6,325.8L110.2,326.1M116,326.4L123.2,326.5L129,326.5L131.5,326.4L136.2,326L140.2,325.9M145.1,325.9L176.4,325.8L182.8,325.7L186.8,325.5L188.2,325.3L189.4,325L190.4,324.7L191.2,324.3L191.9,323.9L192.6,323.3L194.4,321.2L194.8,320.9L195.1,320.8L195.5,320.9L195.9,321.3L197.4,323.3L198.1,324.1L198.8,324.7L199.6,325.2L200.7,325.6L202.2,325.9L204,326.2L206.4,326.3" stroke="#2a65c4" stroke-width="2.1"/>
<path d="M84.7,320.4L88.3,320.2L90.9,319.8L91.9,319.6L92.9,319.3L93.7,318.9L94.4,318.5L94.9,318.1L95.5,317.6L96.3,316.5L97.1,314.9L98.8,311L99.2,310.4L99.5,310.3L99.6,310.3L99.9,310.5L100.3,311.2L101.7,314.6L102.5,316.2L103.3,317.4L104.2,318.2L104.7,318.6L105.4,319L106.2,319.3L107.1,319.6L109.1,320L111.9,320.3M120.6,320.5L130,320.6L134.7,320.6L137,320.4L141.4,319.9L144.6,319.8M147.2,319.7L175.8,319.6L181.7,319.5L185.5,319.2L186.9,319L188.2,318.7L189.1,318.3L190,317.9L190.6,317.3L191.2,316.8L193.1,314.2L193.5,313.9L193.8,313.9L194.1,314L194.5,314.4L196,316.8L196.7,317.7L197.5,318.5L198.4,319.1L199.6,319.6L201.1,320L203.2,320.2L205.8,320.4" stroke="#2a65c4" stroke-width="2.1"/>
<path d="M86.2,314.5L89.5,314.3L92,313.9L93,313.7L94,313.4L94.7,313.1L95.3,312.7L95.9,312.3L96.4,311.8L97.3,310.7L98.1,309.3L99.5,306.2L99.9,305.6L100.2,305.3L100.3,305.3L100.4,305.3L100.7,305.6L101.1,306.2L102.5,309.3L103.3,310.7L104.2,311.8L105,312.5L106.2,313.2L107.9,313.8L110,314.1L112.9,314.4M125.1,314.7L135.9,314.7L140.2,314.7L142.5,314.5L146.8,313.8L149.4,313.6M150.9,313.6L168.4,313.5L176.3,313.4L181.7,313.2L183.6,313L185.1,312.9L186.4,312.6L187.5,312.3L188.3,311.9L189.1,311.4L189.8,310.8L190.4,310.2L192.3,307.3L192.7,307L193,306.9L193.3,307L193.7,307.5L195.2,310.3L196,311.5L196.9,312.4L197.7,313L198.9,313.6L200.6,314L202.8,314.3L205.7,314.5" stroke="#2a65c4" stroke-width="2.1"/>
<path d="M87.1,308.6L90.2,308.4L92.6,308.1L94.4,307.6L95.1,307.3L95.8,306.9L96.7,306.2L97.5,305.3L98.4,303.9L99.8,301.2L100.2,300.6L100.4,300.4L100.6,300.4L100.7,300.4L101,300.6L101.4,301.2L102.8,303.9L103.6,305.3L104.4,306.2L105.3,306.9L106.5,307.5L108.2,308L110.2,308.3L113,308.5M130.1,308.8L141.5,308.8L145.5,308.7L147.8,308.5L151.9,307.7L154.2,307.4M155.2,307.4L171.3,307.3L177.4,307.2L182.1,306.9L183.9,306.7L185.3,306.5L186.5,306.2L187.5,305.8L188.3,305.4L189,304.8L189.7,304.1L190.2,303.4L191.9,300.5L192.3,300L192.6,299.9L192.7,299.9L193,300.1L193.4,300.6L194.9,303.7L195.8,305.1L196.6,306.1L197.5,306.9L198.2,307.3L198.9,307.6L200.7,308L203.1,308.4L206.2,308.6" stroke="#2a65c4" stroke-width="2.1"/>
<path d="M87.6,302.7L90.5,302.5L92.7,302.2L94.4,301.7L95.6,301.2L96.4,300.6L97.3,299.8L98.1,298.6L99.5,296.2L99.9,295.7L100.3,295.5L100.7,295.7L101.1,296.2L102.5,298.6L103.3,299.8L104.2,300.6L105,301.2L106.2,301.7L107.8,302.1L109.8,302.4L112.4,302.6M135.1,302.9L147.1,302.9L151.1,302.8L153.3,302.6L157.4,301.8L159.8,301.5M160.7,301.5L173.7,301.3L179.1,301.2L183.2,300.9L184.7,300.6L186,300.4L187.1,300L187.9,299.6L188.7,299.1L189.4,298.5L190,297.8L190.5,296.9L192.3,293.5L192.7,293L193,293L193.3,293.1L193.7,293.7L195.2,297.2L196,298.8L196.9,299.9L197.4,300.4L198,300.9L198.6,301.3L199.3,301.6L200.3,301.9L201.3,302.1L203.8,302.4L207.2,302.6" stroke="#2a65c4" stroke-width="2.1"/>
<path d="M87.5,296.7L90.1,296.6L92.2,296.3L93.7,295.9L94.9,295.4L95.8,294.9L96.4,294.3L97.3,293.2L98.7,291.1L99.1,290.7L99.5,290.5L99.9,290.7L100.3,291.1L101.7,293.2L102.5,294.3L103.2,294.9L104,295.4L105.3,295.9L106.7,296.3L108.6,296.5L111.1,296.7M140.4,297L152.6,297L156.6,296.9L158.8,296.7L162.9,295.8L165.3,295.6M166.1,295.5L176.4,295.3L181.1,295.1L184.7,294.8L186.1,294.5L187.2,294.2L188,293.9L188.9,293.4L189.5,292.9L190.2,292.2L190.8,291.4L191.3,290.5L193.1,286.6L193.5,286.2L193.8,286.1L194.1,286.3L194.5,286.9L196,290.8L196.9,292.5L197.7,293.7L198.2,294.3L198.8,294.7L199.5,295.2L200.3,295.6L201.3,295.9L202.2,296.1L204.9,296.5L208.6,296.7" stroke="#2a65c4" stroke-width="2.1"/>
<path d="M87.1,290.8L89.4,290.7L91.2,290.4L92.6,290.1L93.7,289.7L94.5,289.2L95.2,288.6L95.9,287.9L97.4,285.9L97.8,285.6L98.1,285.5L98.5,285.6L98.9,286L100.3,287.8L101.1,288.7L101.8,289.2L102.7,289.7L103.8,290.1L105.1,290.4L106.9,290.7L109.1,290.8M145.8,291.1L158,291.1L162.1,290.9L164.3,290.7L168.3,289.9L170.6,289.6M171.5,289.6L179.8,289.3L183.8,289.1L185.4,288.9L186.8,288.6L188,288.3L189,288L189.8,287.5L190.5,287.1L191.2,286.4L191.8,285.7L192.3,284.8L192.7,284L194.4,280L194.8,279.4L195.1,279.3L195.2,279.3L195.5,279.5L195.9,280.3L197.4,284.4L198.2,286.3L198.6,287L199.2,287.7L199.8,288.3L200.3,288.8L201,289.2L201.8,289.6L202.8,289.9L203.9,290.2L206.6,290.6L210.4,290.8" stroke="#2a65c4" stroke-width="2.1"/>
<path d="M86,284.9L88,284.8L89.7,284.6L90.9,284.3L92,283.9L92.7,283.5L93.4,283.1L94.1,282.4L95.6,280.7L96,280.5L96.3,280.4L96.6,280.4L97,280.7L99.1,282.9L99.8,283.4L100.6,283.9L101.7,284.3L102.9,284.5L104.4,284.7L106.5,284.9M151.5,285.2L163.5,285.1L167.6,285L170,284.8L173.8,283.9L176.2,283.6M176.9,283.6L183.3,283.3L186.6,283L188,282.8L189.3,282.5L190.4,282.1L191.2,281.7L191.9,281.3L192.6,280.7L193.1,280.1L193.7,279.3L194.2,278.3L194.6,277.4L196.2,273.4L196.6,272.8L196.9,272.6L197,272.6L197.3,272.8L197.7,273.6L199.2,278L199.6,279.1L200.2,280.2L201,281.5L201.5,282.2L202.1,282.7L202.8,283.1L203.6,283.6L204.6,283.9L205.7,284.2L208.4,284.6L212.4,284.9" stroke="#2a65c4" stroke-width="2.1"/>
<path d="M84.4,279L86.2,278.9L87.8,278.7L89,278.4L90,278.1L90.8,277.7L91.5,277.2L93.4,275.4L93.8,275.2L94.1,275.2L94.4,275.2L94.8,275.4L96.7,277.2L97.4,277.7L98.2,278.1L99.2,278.4L100.4,278.7L101.8,278.9L103.6,279M157.1,279.2L168.9,279.2L173.1,279.1L175.5,278.8L179.3,278L181.5,277.7M182.1,277.6L187.2,277.2L190,276.9L191.2,276.6L192.2,276.3L193,275.9L193.8,275.5L194.5,274.9L195.1,274.3L195.6,273.6L196,272.9L196.9,271.2L198.4,267L198.8,266.2L199.1,266L199.2,266L199.5,266.2L199.9,266.9L201.4,271.6L202.2,273.7L202.6,274.5L203.2,275.4L203.8,276.1L204.3,276.6L205.1,277.2L206,277.6L206.9,278L208,278.2L209.4,278.5L210.9,278.7L214.9,278.9" stroke="#2a65c4" stroke-width="2.1"/>
<path d="M82.7,273.1L85.5,272.8L86.7,272.6L87.5,272.3L88.2,272L88.9,271.6L90.8,270.1L91.2,269.9L91.5,269.8L91.8,269.9L92.2,270.1L94.1,271.6L94.8,272L95.5,272.3L96.3,272.6L97.4,272.8L100.3,273.1M162.8,273.3L174.2,273.2L178.6,273.1L181.1,272.8L184.9,272L186.8,271.6M187.2,271.6L191.2,271.1L193.5,270.7L194.5,270.4L195.5,270L196.2,269.6L196.9,269.1L197.8,268.1L198.6,266.8L199.5,264.9L201,260.5L201.4,259.7L201.7,259.5L201.8,259.5L202.1,259.7L202.5,260.5L204.2,265.8L205,267.9L205.4,268.6L206,269.5L206.5,270.1L207.1,270.7L207.9,271.3L208.7,271.7L209.7,272L210.8,272.3L212.2,272.6L213.7,272.7L217.7,273" stroke="#2a65c4" stroke-width="2.1"/>
<path d="M80.3,267.2L82.8,266.9L84.6,266.5L85.3,266.3L86,265.9L87.9,264.6L88.3,264.4L88.6,264.4L88.9,264.5L89.3,264.6L91.1,265.9L91.8,266.2L92.4,266.5L94.2,266.9L96.7,267.2M168.6,267.4L179.6,267.3L184.2,267.1L185.5,267L186.8,266.8L190.2,265.9L192,265.6M192.3,265.5L195.3,265L197.3,264.5L198.1,264.2L198.8,263.8L199.5,263.3L200,262.8L200.9,261.9L201.7,260.4L202.5,258.4L204,253.9L204.4,253.2L204.7,253L204.9,253.1L205.1,253.4L205.5,254.4L207.1,259.5L207.9,261.6L208.3,262.5L208.9,263.4L209.4,264.1L210,264.6L210.8,265.2L211.6,265.7L212.6,266L213.7,266.3L215.1,266.6L216.6,266.8L220.7,267.1" stroke="#2a65c4" stroke-width="2.1"/>
<path d="M77.8,261.2L80,261L81.5,260.7L82.8,260.2L84.7,259.1L85.4,258.9L86.1,259.1L87.8,260.1L89,260.6L90.7,261L92.9,261.2M174.4,261.4L185.8,261.3L188.6,261.2L190.5,261.1L191.9,260.9L193.1,260.6L196,259.7L199.3,258.9L201,258.3L202.1,257.8L202.9,257.1L203.8,256.3L204.4,255.2L205,254.1L205.5,252.8L207.2,247.7L207.6,246.9L207.9,246.7L208,246.7L208.3,247L208.7,248L210.2,253.2L211.1,255.5L211.5,256.3L212,257.3L212.6,258L213.1,258.6L214,259.2L214.8,259.7L215.8,260.1L216.9,260.4L218.2,260.7L219.8,260.9L223.9,261.2" stroke="#2a65c4" stroke-width="2.1"/>
<path d="M74.9,255.3L76.9,255.1L78.2,254.8L79.5,254.4L81.1,253.5L81.5,253.4L82,253.4L82.7,253.5L84.3,254.4L85.4,254.8L86.9,255.1L88.9,255.3M180.3,255.5L191.1,255.4L193.8,255.3L195.9,255.1L197.4,254.8L198.9,254.4L202.9,253.1L204.4,252.4L205.5,251.8L206.4,251.2L207.2,250.2L207.9,249.2L208.4,248.1L209,246.7L210.6,241.4L211.1,240.6L211.3,240.4L211.5,240.5L211.8,240.8L212.2,241.7L213.7,247.1L214.5,249.4L214.9,250.3L215.5,251.3L216,252L216.6,252.6L217.4,253.2L218.2,253.7L219.2,254.1L220.3,254.4L221.7,254.7L223.2,254.9L227.2,255.2" stroke="#2a65c4" stroke-width="2.1"/>
<path d="M71.8,249.4L73.4,249.2L74.8,249L75.9,248.6L77.5,247.9L78.2,247.7L78.9,247.9L80.6,248.6L81.7,249L83.1,249.2L84.7,249.4M186.1,249.6L196.2,249.4L198.9,249.3L201,249.1L202.6,248.8L204.2,248.4L206,247.6L207.9,246.7L209,246.1L210,245.3L210.8,244.4L211.5,243.3L212,242.2L212.6,240.8L214,236.2L214.4,235L214.8,234.3L215.1,234.2L215.3,234.5L215.8,235.4L217.3,240.8L218.1,243.2L218.5,244.2L219.1,245.2L219.6,245.9L220.2,246.6L221,247.2L221.8,247.7L222.8,248.2L223.9,248.5L225.3,248.8L226.8,249L230.8,249.3" stroke="#2a65c4" stroke-width="2.1"/>
<path d="M50.1,368L66.2,367.9L75.1,367.7L78.1,367.5L80.4,367.3L82.2,366.9L83.8,366.5L85,365.9L86.1,365.2L86.9,364.3L87.8,363.1L88.4,361.6L89,360.1L90.8,354L91.2,353.2L91.5,353L91.6,353.1L91.9,353.4L92.3,354.4L93.7,359.3L94.5,361.6L95.3,363.3L96.2,364.5L96.7,365.1L97.4,365.6L98.2,366.1L99.1,366.5L100,366.8L101.1,367L103.9,367.4L107.2,367.7L111.6,367.8L126.9,368L243.2,368.1" stroke="#ba24b0"/>
<path d="M50.1,362.1L69.1,362L79.2,361.8L82.5,361.7L85.1,361.4L87.2,361.1L88.9,360.7L90.2,360.2L91.3,359.5L92.3,358.6L93.1,357.4L93.8,356L94.4,354.6L96.3,348.1L96.7,347.3L97,347.1L97.1,347.2L97.4,347.5L97.8,348.5L99.2,353.3L100,355.7L100.9,357.4L101.7,358.6L102.2,359.1L102.9,359.7L103.8,360.2L104.6,360.5L105.5,360.9L106.7,361.1L109.3,361.5L112.4,361.7L116.9,361.9L131.8,362.1L243.2,362.1" stroke="#ba24b0"/>
<path d="M50.1,356.2L72.3,356.1L83.6,355.9L87.3,355.8L90.1,355.6L92.3,355.3L94.1,354.9L95.5,354.4L96.7,353.7L97.7,352.8L98.5,351.7L99.2,350.4L99.9,348.7L101.8,342.2L102.2,341.4L102.5,341.2L102.7,341.2L102.9,341.6L103.3,342.6L104.7,347.4L105.5,349.8L106.4,351.5L107.2,352.6L107.8,353.2L108.4,353.8L109.1,354.2L110,354.6L110.9,354.9L112,355.2L114.7,355.6L117.8,355.8L122.1,356L136.6,356.1L243.2,356.2" stroke="#ba24b0"/>
<path d="M50.1,350.3L75.5,350.2L88,350.1L92,349.9L95.1,349.7L97.4,349.4L99.3,349.1L100.9,348.5L102.1,347.9L102.7,347.4L103.2,346.9L104,345.8L104.7,344.5L105.4,342.8L107.3,336.2L107.8,335.4L108,335.3L108.2,335.3L108.4,335.6L108.9,336.6L110.2,341.5L111.1,343.9L111.8,345.3L112.6,346.6L113.1,347.2L113.8,347.8L114.5,348.2L115.3,348.6L116.3,348.9L117.3,349.2L119.9,349.6L123.1,349.9L127.2,350L141.1,350.2L170.1,350.3L243.2,350.3" stroke="#ba24b0"/>
<path d="M50.1,344.4L78.4,344.3L92.2,344.2L96.6,344L99.9,343.9L102.5,343.6L104.4,343.2L106.1,342.7L107.3,342.1L108.4,341.3L109.4,340.1L110.2,338.6L110.9,336.9L112.9,330.3L113.3,329.5L113.5,329.4L113.7,329.4L114,329.7L114.4,330.7L115.8,335.6L116.6,338L117.3,339.4L118.1,340.6L118.7,341.3L119.3,341.8L120,342.3L120.9,342.7L121.8,343L122.8,343.3L125.3,343.7L128.3,343.9L132.3,344.1L146,344.3L173.8,344.4L243.2,344.4" stroke="#ba24b0"/>
<path d="M50.1,338.4L81.7,338.4L96.7,338.3L101.4,338.1L104.9,338L107.6,337.7L109.7,337.4L111.5,336.9L112.9,336.2L114,335.3L114.9,334.2L115.8,332.7L116.4,331L118.4,324.4L118.8,323.6L119.1,323.4L119.2,323.5L119.5,323.8L119.9,324.8L121.3,329.7L122.1,332L122.8,333.5L123.6,334.7L124.2,335.3L124.9,335.9L125.5,336.4L126.2,336.7L127.2,337.1L128.2,337.3L130.7,337.7L133.5,338L137.5,338.2L150.6,338.4L177.4,338.4L243.2,338.5" stroke="#ba24b0"/>
<path d="M50.1,332.5L84.9,332.5L101.1,332.4L106.2,332.3L110,332.1L112.7,331.9L114.9,331.5L116.7,331L117.5,330.7L118.2,330.4L118.9,329.9L119.5,329.4L120.4,328.2L121.3,326.8L122,325L123.9,318.5L124.3,317.7L124.6,317.5L124.7,317.6L125,317.9L125.4,318.9L126.8,323.8L127.6,326.1L128.3,327.6L129.1,328.8L129.7,329.4L130.4,330L131.1,330.4L131.8,330.8L132.6,331.1L133.5,331.4L135.9,331.8L138.8,332.1L142.5,332.2L155.2,332.4L180.7,332.5L243.2,332.5" stroke="#ba24b0"/>
<path d="M50.1,326.6L88,326.6L105.5,326.5L110.9,326.4L114.9,326.2L117.8,326L120.2,325.7L122.1,325.2L123.6,324.5L124.3,324.1L124.9,323.6L125.8,322.5L126.5,321.4L127.2,319.9L127.9,317.8L129.3,313L129.7,312L130,311.6L130.1,311.6L130.2,311.6L130.5,312L130.9,313L132.3,317.8L133,319.9L133.7,321.4L134.5,322.7L135.1,323.4L135.6,323.9L136.3,324.4L137.1,324.8L138,325.1L138.9,325.4L141.3,325.9L144,326.1L147.8,326.3L152.9,326.4L160,326.5L184.4,326.6L243.2,326.6" stroke="#ba24b0"/>
<path d="M50.1,320.7L91.6,320.7L110.2,320.6L115.9,320.5L120,320.3L123.2,320.1L125.5,319.8L127.5,319.3L129,318.7L129.7,318.3L130.2,317.8L130.8,317.3L131.3,316.6L132,315.5L132.7,313.9L133.4,311.9L134.8,307L135.2,306L135.5,305.7L135.6,305.7L135.8,305.7L136,306L136.4,307L137.8,311.9L138.5,313.9L139.2,315.5L140,316.8L140.6,317.4L141.1,317.9L141.8,318.4L142.5,318.8L143.3,319.2L144.3,319.5L146.7,319.9L149.4,320.2L153,320.4L164.7,320.6L188,320.7L243.2,320.7" stroke="#ba24b0"/>
<path d="M50.1,314.8L94.9,314.7L114.8,314.7L120.9,314.6L125.1,314.4L128.3,314.2L130.8,313.9L132.9,313.4L133.7,313.1L134.5,312.8L135.2,312.3L135.8,311.9L136.3,311.4L136.9,310.7L137.5,309.6L138.2,308L138.9,306L140.3,301.1L140.7,300.1L141,299.8L141.1,299.8L141.3,299.8L141.5,300.1L142,301.1L143.3,306L144,308L144.7,309.6L145.5,310.9L146.1,311.5L146.7,312L147.3,312.5L148,312.9L149.7,313.5L151.9,314L154.5,314.2L158,314.4L162.6,314.6L169.3,314.7L191.5,314.8L243.2,314.8" stroke="#ba24b0"/>
<path d="M50.1,308.9L98.4,308.8L119.3,308.7L125.5,308.7L130.1,308.5L133.4,308.3L136,308L138.1,307.6L139.8,307L140.4,306.6L141.1,306.1L141.7,305.6L142.2,305L143.1,303.6L143.8,302.1L144.4,300.1L145.8,295.2L146.2,294.2L146.5,293.9L146.7,293.8L146.8,293.9L147.1,294.2L147.5,295.2L148.9,300.1L149.5,302.1L150.2,303.6L151.1,305L151.6,305.6L152.2,306.1L152.9,306.6L153.5,307L155.2,307.6L157.3,308L159.9,308.3L163.2,308.5L167.8,308.7L174,308.7L194.9,308.8L243.2,308.9" stroke="#ba24b0"/>
<path d="M50.1,303L101.8,302.9L124,302.8L130.7,302.7L135.3,302.6L138.8,302.4L141.4,302.1L143.6,301.7L145.3,301.1L146,300.7L146.7,300.2L147.2,299.7L147.8,299L148.6,297.7L149.3,296.2L150,294.2L151.3,289.3L151.8,288.3L152,288L152.2,287.9L152.3,288L152.6,288.3L153,289.3L154.4,294.2L155.1,296.2L155.8,297.7L156.4,298.9L157,299.5L157.5,300.1L158.1,300.5L158.8,300.9L159.6,301.3L160.4,301.6L162.5,302.1L165,302.4L168.2,302.6L172.4,302.7L178.5,302.8L198.4,302.9L243.2,302.9" stroke="#ba24b0"/>
<path d="M50.1,297L105.3,297L128.6,296.9L140.3,296.7L143.9,296.5L146.7,296.2L149,295.8L150,295.5L150.8,295.1L151.5,294.8L152.2,294.3L152.7,293.8L153.3,293.1L154.1,291.8L154.8,290.3L155.5,288.2L156.9,283.4L157.3,282.4L157.5,282.1L157.7,282L157.8,282.1L158.1,282.4L158.5,283.4L159.9,288.2L160.6,290.3L161.3,291.8L162,292.9L162.5,293.6L163.1,294.2L163.6,294.6L164.3,295L165.8,295.6L167.8,296.1L170.1,296.4L173.3,296.6L177.4,296.8L183.1,296.9L201.7,297L243.2,297" stroke="#ba24b0"/>
<path d="M50.1,291.1L108.9,291.1L133.3,291L140.4,290.9L145.5,290.8L149.3,290.6L152,290.3L154.4,289.9L155.3,289.6L156.2,289.3L157,288.9L157.7,288.4L158.2,287.9L158.8,287.2L159.6,285.9L160.3,284.4L161,282.3L162.4,277.5L162.8,276.5L163.1,276.1L163.2,276.1L163.3,276.1L163.6,276.5L164,277.5L165.4,282.3L166.1,284.4L166.8,285.9L167.5,287L168.4,288.1L169,288.6L169.7,289L171.2,289.7L173.1,290.1L175.5,290.5L178.4,290.7L182.4,290.9L187.8,291L205.3,291.1L243.2,291.1" stroke="#ba24b0"/>
<path d="M50.1,285.2L112.6,285.2L138.1,285.1L150.8,284.9L154.5,284.7L157.4,284.4L159.8,284L160.7,283.8L161.5,283.4L162.2,283.1L162.9,282.7L163.6,282.1L164.2,281.5L165,280.2L165.7,278.8L166.5,276.4L167.9,271.5L168.3,270.5L168.6,270.2L168.7,270.2L169,270.3L169.4,271.1L171.3,277.7L172,279.4L172.9,280.9L173.8,282.1L174.4,282.6L175.1,283L175.8,283.4L176.6,283.7L178.4,284.2L180.6,284.5L183.3,284.7L187.1,284.9L192.2,285L208.4,285.1L243.2,285.2" stroke="#ba24b0"/>
<path d="M50.1,279.3L115.9,279.3L142.7,279.2L155.8,279L159.8,278.8L162.6,278.6L165.1,278.1L166.1,277.9L167.1,277.5L167.8,277.2L168.4,276.7L169.1,276.2L169.7,275.5L170.5,274.3L171.2,272.9L172,270.5L173.4,265.6L173.8,264.6L174.1,264.3L174.2,264.3L174.5,264.4L174.9,265.2L176.9,271.8L177.5,273.5L178.4,275L179.3,276.2L180.4,277L181.8,277.7L183.6,278.2L185.7,278.5L188.4,278.8L191.9,279L196.6,279.1L211.6,279.2L243.2,279.3" stroke="#ba24b0"/>
<path d="M50.1,273.4L119.5,273.3L147.3,273.3L161,273.1L165,272.9L168,272.7L170.5,272.3L171.5,272L172.4,271.7L173.3,271.3L174,270.8L174.6,270.2L175.2,269.6L176,268.4L176.7,267L177.5,264.6L178.9,259.7L179.3,258.7L179.6,258.4L179.8,258.3L180,258.5L180.4,259.3L182.4,265.9L183.1,267.6L183.9,269.1L184.9,270.2L186,271.1L187.2,271.7L188.9,272.2L190.8,272.6L193.4,272.8L196.7,273L201.1,273.1L214.9,273.3L243.2,273.3" stroke="#ba24b0"/>
<path d="M50.1,267.4L123.2,267.4L152.2,267.4L166.1,267.2L170.2,267L173.4,266.8L176,266.3L177,266.1L178,265.7L178.8,265.3L179.5,264.9L180.2,264.3L180.7,263.7L181.5,262.5L182.2,261L183.1,258.7L184.4,253.8L184.9,252.8L185.1,252.5L185.3,252.4L185.5,252.6L186,253.4L187.9,259.9L188.6,261.7L189.3,262.9L190.1,264L190.6,264.6L191.2,265L192.4,265.7L194,266.2L195.9,266.6L198.2,266.9L201.3,267.1L205.3,267.2L217.8,267.4L243.2,267.4" stroke="#ba24b0"/>
<path d="M50.1,261.5L156.7,261.4L171.2,261.3L175.5,261.1L178.6,260.9L181.3,260.5L182.4,260.2L183.3,259.9L184.2,259.5L184.9,259.1L185.5,258.5L186.1,258L186.9,256.8L187.8,255.1L188.6,252.7L190,247.9L190.4,246.9L190.6,246.5L190.8,246.5L191.1,246.7L191.5,247.5L193.4,254L194.1,255.7L194.8,257L195.6,258.1L196.6,259L197.8,259.7L199.2,260.2L201,260.6L203.2,260.9L206,261.1L209.7,261.3L221,261.4L243.2,261.5" stroke="#ba24b0"/>
<path d="M50.1,255.6L161.5,255.5L176.4,255.4L180.9,255.2L184,255L186.6,254.6L187.8,254.3L188.7,254L189.5,253.7L190.4,253.2L191.1,252.6L191.6,252L192.4,250.9L193.3,249.2L194.1,246.8L195.5,241.9L195.9,241L196.2,240.6L196.3,240.6L196.6,240.8L197,241.6L198.9,248.1L199.5,249.5L200.2,250.9L201,252L202,253L203.1,253.7L204.4,254.2L206.1,254.6L208.2,254.9L210.8,255.1L214.1,255.3L224.2,255.5L243.2,255.6" stroke="#ba24b0"/>
<path d="M50.1,249.7L166.4,249.6L181.7,249.4L186.1,249.3L189.4,249.1L192.2,248.7L193.3,248.4L194.2,248.1L195.1,247.7L195.9,247.2L196.6,246.7L197.1,246.1L198,245L198.8,243.3L199.6,240.9L201,236L201.4,235L201.7,234.7L201.8,234.7L202.1,234.8L202.5,235.6L204.3,241.8L204.9,243.3L205.5,244.7L206.4,246L207.2,246.8L208.3,247.6L209.5,248.1L211.1,248.6L212.9,248.9L215.2,249.1L218.2,249.3L227.1,249.5L243.2,249.6" stroke="#ba24b0"/>
</g>
<rect x="50.1" y="228.4" width="193.1" height="146.15" fill="none" stroke="#000" stroke-width="1.1"/>
<line x1="91.48" y1="374.55" x2="91.48" y2="379.41" stroke="#000" stroke-width="1.1"/>
<text x="91.48" y="394.75" text-anchor="middle" font-size="14.3" ><tspan font-size="17.6" dy="2.5">−</tspan><tspan dy="-2.5">0.2</tspan></text>
<line x1="146.65" y1="374.55" x2="146.65" y2="379.41" stroke="#000" stroke-width="1.1"/>
<text x="146.65" y="394.75" text-anchor="middle" font-size="14.3" >0.0</text>
<line x1="201.82" y1="374.55" x2="201.82" y2="379.41" stroke="#000" stroke-width="1.1"/>
<text x="201.82" y="394.75" text-anchor="middle" font-size="14.3" >0.2</text>
<line x1="45.24" y1="368.06" x2="50.1" y2="368.06" stroke="#000" stroke-width="1.1"/>
<text x="40.3" y="372.96" text-anchor="end" font-size="14.3" ><tspan font-size="17.6" dy="2.5">−</tspan><tspan dy="-2.5">2</tspan></text>
<line x1="45.24" y1="338.47" x2="50.1" y2="338.47" stroke="#000" stroke-width="1.1"/>
<text x="40.3" y="343.37" text-anchor="end" font-size="14.3" ><tspan font-size="17.6" dy="2.5">−</tspan><tspan dy="-2.5">1</tspan></text>
<line x1="45.24" y1="308.88" x2="50.1" y2="308.88" stroke="#000" stroke-width="1.1"/>
<text x="40.3" y="313.78" text-anchor="end" font-size="14.3" >0</text>
<line x1="45.24" y1="279.29" x2="50.1" y2="279.29" stroke="#000" stroke-width="1.1"/>
<text x="40.3" y="284.19" text-anchor="end" font-size="14.3" >1</text>
<line x1="45.24" y1="249.7" x2="50.1" y2="249.7" stroke="#000" stroke-width="1.1"/>
<text x="40.3" y="254.6" text-anchor="end" font-size="14.3" >2</text>
<text x="30" y="229" text-anchor="middle" font-size="14.5" >(b)</text>
<text><tspan x="123.17" y="413.2" font-size="13.9" font-style="italic">ω</tspan><tspan x="134.12" y="417.1" font-size="20">/</tspan><tspan x="152.79" y="413.2" font-size="13.9" font-style="italic">r</tspan><tspan x="160.09" y="415.8" font-size="10.8" font-style="italic">N</tspan></text>
<text transform="translate(140.87,417.48) scale(1.54,1.23)" font-size="13.9">√</text>
<line x1="152" y1="404.3" x2="169.4" y2="404.3" stroke="#000" stroke-width="0.65"/>
<g transform="translate(11.9,347.6) rotate(-90)">
<text><tspan x="-0.58" y="0" font-size="13.9" font-style="italic">ϵ</tspan><tspan x="7.42" y="3.9" font-size="20">/</tspan><tspan x="26.09" y="0" font-size="13.9" font-style="italic">r</tspan><tspan x="33.39" y="2.6" font-size="10.8" font-style="italic">N</tspan><tspan x="43.08" y="0" font-size="14.6">(</tspan><tspan x="49.19" y="2.3" font-size="16.5">×</tspan><tspan x="59.31" y="0" font-size="13.6">1</tspan><tspan x="66.45" y="0" font-size="13.6">0</tspan><tspan x="74.26" y="-2.2" font-size="15">−</tspan><tspan x="83.64" y="-4" font-size="9.7">1</tspan><tspan x="89.45" y="0" font-size="14.6">)</tspan></text>
<text transform="translate(14.17,4.28) scale(1.54,1.23)" font-size="13.9">√</text>
<line x1="25.3" y1="-8.9" x2="42.7" y2="-8.9" stroke="#000" stroke-width="0.65"/>
</g>
<clipPath id="cc"><rect x="298.4" y="10.55" width="385.6" height="364.05"/></clipPath>
<g clip-path="url(#cc)" fill="none" stroke-width="2.08" stroke-linejoin="round" stroke-linecap="square">
<path d="M315.5,103L319,107.1L322.5,111L326,114.8L329.6,118.4L334.6,123.3L338.6,127L342.1,130.1L345.1,132.4L348.7,134.9L352.7,137.4L356.2,139.4L359.7,141.2L363.2,142.8L367.2,144.4L371.3,145.9L375.8,147.3L380.3,148.6L384.3,149.6L388.3,150.6L391.8,151.3L397.4,152.2L402.4,152.9L406.4,153.4L410.9,153.8L417,154.2L423.5,154.5L435.5,154.9L446.1,155.2L469.7,155.6L491.3,155.7L512.9,155.6L536.5,155.2L547.1,154.9L559.1,154.5L565.6,154.2L571.7,153.8L576.2,153.4L580.2,152.9L585.2,152.2L590.8,151.3L594.3,150.6L598.3,149.6L602.3,148.6L606.8,147.3L611.3,145.9L615.4,144.4L619.4,142.8L622.9,141.2L626.4,139.4L629.9,137.4L633.9,134.9L637.5,132.4L640.5,130.1L644,127L648,123.3L653,118.4L656.6,114.8L660.1,111L663.6,107.1L667.1,103" stroke="#1f77b4"/>
<path d="M315.5,103L319,107.1L322.5,111L326,114.8L329.1,117.9L334.1,122.8L338.1,126.6L341.1,129.2L344.1,131.7L346.6,133.5L350.7,136.1L354.2,138.3L357.2,139.9L360.2,141.3L362.7,142.4L366.7,143.9L370.8,145.3L373.8,146.1L376.8,146.9L380.8,147.6L384.8,148.2L390.3,148.9L398.9,149.8L403.4,150.2L407.4,150.5L420,150.8L424.5,150.8L427,150.7L431,150.4L441.1,149.3L449.6,148.3L452.1,148.1L454.1,148L457.6,148.1L461.2,148.3L461.7,148.4L462.7,148.6L464.2,149.3L465.2,149.8L466.7,150.9L467.7,151.6L468.2,152.2L468.7,152.8L469.7,154.2L471.2,156.8L472.7,159.6L473.7,161.7L474.7,164.1L477.2,170.4L480.8,179.8L483.8,187.7L484.8,190.1L485.3,191.1L485.8,192L487.3,194.2L488.8,196.1L489.8,197L490.3,197.4L490.8,197.6L491.3,197.6L491.8,197.5L492.3,197.3L492.8,196.9L493.8,196L494.8,194.8L495.8,193.4L496.8,192L497.3,191.1L497.8,190.1L498.8,187.7L502.4,178.5L505.4,170.4L507.9,164.1L508.9,161.7L509.9,159.6L511.4,156.8L512.9,154.2L513.9,152.8L514.4,152.2L514.9,151.6L515.9,150.9L517.4,149.8L518.4,149.3L519.9,148.6L520.9,148.4L521.4,148.3L525,148.1L528.5,148L530.5,148.1L533,148.3L541.5,149.3L551.6,150.4L555.6,150.7L558.1,150.8L562.6,150.8L575.2,150.5L579.2,150.2L583.7,149.8L592.3,148.9L597.8,148.2L601.8,147.6L605.8,146.9L608.8,146.1L611.8,145.3L615.9,143.9L619.9,142.4L622.4,141.3L625.4,139.9L628.4,138.3L631.9,136.1L636,133.5L638.5,131.7L641.5,129.2L644.5,126.6L648.5,122.8L653.5,117.9L656.6,114.8L660.1,111L663.6,107.1L667.1,103" stroke="#ff7f0e"/>
<path d="M315.5,101.8L319,106L322,109.4L325.5,113.2L328.6,116.2L333.6,120.9L337.6,124.4L340.6,126.9L343.6,129.1L346.1,130.7L349.7,132.6L353.2,134.3L356.7,135.7L359.2,136.6L361.7,137.3L367.2,138.7L371.3,139.5L374.3,139.9L376.8,140.2L383.8,140.4L390.8,140.5L393.9,140.5L395.9,140.4L398.4,140.1L400.9,139.7L405.4,138.8L410.9,137.5L415,136.3L419,134.8L423.5,133L425.5,132.1L427.5,131.1L432.5,128.2L434.5,127.2L440.1,124.6L442.1,123.8L443.1,123.6L444.1,123.5L444.6,123.5L445.6,123.7L447.1,124.2L448.1,124.6L449.1,125.2L449.6,125.7L450.1,126.4L451.1,128.2L452.1,130.1L453.1,132.5L454.1,135.3L455.1,138.4L456.1,142.2L459.2,155.1L461.2,164.2L462.7,171.5L466.2,189.9L467.7,198.9L469.7,213.4L470.2,216.6L471.7,225L473.2,232.4L475.2,241.5L476.7,247.8L478.2,253.6L480.2,260.2L481.8,264.6L482.8,267.1L484.8,271L486.3,273.4L487.3,274.6L488.8,275.9L489.8,276.6L490.3,276.8L490.8,277L491.3,277L491.8,276.9L492.8,276.5L493.8,275.8L495.3,274.6L496.3,273.5L496.8,272.7L497.8,271L499.8,267.1L500.8,264.6L502.4,260.2L504.4,253.6L505.9,247.8L507.4,241.5L509.4,232.4L510.9,225L512.4,216.6L512.9,213.4L514.9,198.9L516.4,189.9L519.9,171.5L521.4,164.2L523.4,155.1L526.5,142.2L527.5,138.4L528.5,135.3L529.5,132.5L530.5,130.1L531.5,128.2L532.5,126.4L533,125.7L533.5,125.2L534.5,124.6L535.5,124.2L537,123.7L538,123.5L538.5,123.5L539.5,123.6L540.5,123.8L542.5,124.6L548.1,127.2L550.1,128.2L555.1,131.1L557.1,132.1L559.1,133L563.6,134.8L567.6,136.3L571.7,137.5L577.2,138.8L581.7,139.7L584.2,140.1L586.7,140.4L588.7,140.5L591.8,140.5L598.8,140.4L605.8,140.2L608.3,139.9L611.3,139.5L615.4,138.7L620.9,137.3L623.4,136.6L625.9,135.7L629.4,134.3L632.9,132.6L636.5,130.7L639,129.1L642,126.9L645,124.4L649,120.9L654,116.2L657.1,113.2L660.6,109.4L663.6,106L667.1,101.8" stroke="#2ca02c"/>
<path d="M315.5,95.5L317,95.8L319,96L321,96.1L323.5,96.1L325,95.9L326.6,95.3L328.1,94.6L332.1,92.4L333.6,91.6L335.6,90.3L337.6,88.9L339.6,87.3L341.6,85.7L343.6,83.9L346.1,81.5L347.6,80L349.2,78.4L350.7,76.6L352.2,74.8L354.2,72.1L356.2,69.3L358.7,65.6L362.2,60.2L364.2,56.8L370.8,44.7L374.3,38.1L375.8,35.3L376.8,33.7L378.8,30.7L379.8,29.2L380.3,28.6L380.8,28.1L381.3,27.7L382.3,27.2L383.3,26.9L383.8,26.8L384.3,26.7L384.8,26.7L385.3,26.9L385.8,27.2L386.3,27.6L387.3,28.7L388.3,30L388.8,30.9L389.3,32.1L390.3,35.1L390.8,36.9L391.3,39L391.8,41.9L393.9,56L396.9,79.7L397.9,86.8L399.4,96.7L400.4,104.1L401.4,113.1L402.9,129L404.4,148.4L404.9,154L405.4,158.6L406.9,170.4L407.4,174.9L407.9,180.2L409.4,199.6L410.9,217.9L411.4,222.7L412.4,230.6L413.4,237.3L415,246.2L416.5,254.1L418,261.2L420,269.9L422,277.8L424,285L426,291.6L428.5,299.3L430,303.5L431,306.1L432.5,309.7L434,313L435.5,316.2L437.6,320.1L439.1,322.8L441.1,326.1L442.6,328.5L444.6,331.4L446.1,333.4L448.1,336L450.1,338.3L452.6,341L454.6,343L456.6,344.8L459.2,346.8L461.7,348.7L463.7,350L465.7,351.2L468.2,352.6L470.7,353.8L472.7,354.6L474.7,355.3L477.7,356.2L480.2,356.8L482.8,357.3L487.3,358L489.3,358.2L491.3,358.3L493.3,358.2L495.3,358L499.8,357.3L502.4,356.8L504.9,356.2L507.9,355.3L509.9,354.6L511.9,353.8L514.4,352.6L516.9,351.2L518.9,350L520.9,348.7L523.4,346.8L526,344.8L528,343L530,341L532.5,338.3L534.5,336L536.5,333.4L538,331.4L540,328.5L541.5,326.1L543.5,322.8L545,320.1L547.1,316.2L548.6,313L550.1,309.7L551.6,306.1L552.6,303.5L554.1,299.3L556.6,291.6L558.6,285L560.6,277.8L562.6,269.9L564.6,261.2L566.1,254.1L567.6,246.2L569.2,237.3L570.2,230.6L571.2,222.7L571.7,217.9L573.2,199.6L574.7,180.2L575.2,174.9L575.7,170.4L577.2,158.6L577.7,154L578.2,148.4L579.7,129L581.2,113.1L582.2,104.1L583.2,96.7L584.7,86.8L585.7,79.7L588.7,56L590.8,41.9L591.3,39L591.8,36.9L592.3,35.1L593.3,32.1L593.8,30.9L594.3,30L595.3,28.7L596.3,27.6L596.8,27.2L597.3,26.9L597.8,26.7L598.3,26.7L598.8,26.8L599.3,26.9L600.3,27.2L601.3,27.7L601.8,28.1L602.3,28.6L602.8,29.2L603.8,30.7L605.8,33.7L606.8,35.3L608.3,38.1L611.8,44.7L618.4,56.8L620.4,60.2L623.9,65.6L626.4,69.3L628.4,72.1L630.4,74.8L631.9,76.6L633.4,78.4L635,80L636.5,81.5L639,83.9L641,85.7L643,87.3L645,88.9L647,90.3L649,91.6L650.5,92.4L654.5,94.6L656,95.3L657.6,95.9L659.1,96.1L661.6,96.1L663.6,96L665.6,95.8L667.1,95.5" stroke="#d62728"/>
<line x1="491.3" y1="10.55" x2="491.3" y2="374.6" stroke="#000" stroke-width="2.08" stroke-dasharray="7.7 3.33" stroke-linecap="butt"/>
</g>
<rect x="298.4" y="10.55" width="385.6" height="364.05" fill="none" stroke="#000" stroke-width="1.1"/>
<line x1="315.4" y1="374.6" x2="315.4" y2="379.46" stroke="#000" stroke-width="1.1"/>
<text x="315.4" y="394.8" text-anchor="middle" font-size="14.3" ><tspan font-size="17.6" dy="2.5">−</tspan><tspan dy="-2.5">10</tspan></text>
<line x1="403.35" y1="374.6" x2="403.35" y2="379.46" stroke="#000" stroke-width="1.1"/>
<text x="403.35" y="394.8" text-anchor="middle" font-size="14.3" ><tspan font-size="17.6" dy="2.5">−</tspan><tspan dy="-2.5">5</tspan></text>
<line x1="491.3" y1="374.6" x2="491.3" y2="379.46" stroke="#000" stroke-width="1.1"/>
<text x="491.3" y="394.8" text-anchor="middle" font-size="14.3" >0</text>
<line x1="579.25" y1="374.6" x2="579.25" y2="379.46" stroke="#000" stroke-width="1.1"/>
<text x="579.25" y="394.8" text-anchor="middle" font-size="14.3" >5</text>
<line x1="667.2" y1="374.6" x2="667.2" y2="379.46" stroke="#000" stroke-width="1.1"/>
<text x="667.2" y="394.8" text-anchor="middle" font-size="14.3" >10</text>
<line x1="293.54" y1="349.3" x2="298.4" y2="349.3" stroke="#000" stroke-width="1.1"/>
<text x="288.2" y="354.2" text-anchor="end" font-size="14.3" >0.2</text>
<line x1="293.54" y1="294.45" x2="298.4" y2="294.45" stroke="#000" stroke-width="1.1"/>
<text x="288.2" y="299.35" text-anchor="end" font-size="14.3" >0.4</text>
<line x1="293.54" y1="239.6" x2="298.4" y2="239.6" stroke="#000" stroke-width="1.1"/>
<text x="288.2" y="244.5" text-anchor="end" font-size="14.3" >0.6</text>
<line x1="293.54" y1="184.75" x2="298.4" y2="184.75" stroke="#000" stroke-width="1.1"/>
<text x="288.2" y="189.65" text-anchor="end" font-size="14.3" >0.8</text>
<line x1="293.54" y1="129.9" x2="298.4" y2="129.9" stroke="#000" stroke-width="1.1"/>
<text x="288.2" y="134.8" text-anchor="end" font-size="14.3" >1.0</text>
<line x1="293.54" y1="75.05" x2="298.4" y2="75.05" stroke="#000" stroke-width="1.1"/>
<text x="288.2" y="79.95" text-anchor="end" font-size="14.3" >1.2</text>
<line x1="293.54" y1="20.2" x2="298.4" y2="20.2" stroke="#000" stroke-width="1.1"/>
<text x="288.2" y="25.1" text-anchor="end" font-size="14.3" >1.4</text>
<text x="260.5" y="11" text-anchor="middle" font-size="14.5" >(c)</text>
<text><tspan x="442.07" y="414.5" font-size="13.9" font-style="italic">ω</tspan><tspan x="453.02" y="418.4" font-size="20">/</tspan><tspan x="471.69" y="414.5" font-size="13.9" font-style="italic">r</tspan><tspan x="478.99" y="417.1" font-size="10.8" font-style="italic">N</tspan><tspan x="488.68" y="414.5" font-size="14.6">(</tspan><tspan x="494.79" y="416.8" font-size="16.5">×</tspan><tspan x="504.91" y="414.5" font-size="13.6">1</tspan><tspan x="512.05" y="414.5" font-size="13.6">0</tspan><tspan x="519.86" y="412.3" font-size="15">−</tspan><tspan x="529.43" y="410.5" font-size="9.7">2</tspan><tspan x="535.05" y="414.5" font-size="14.6">)</tspan></text>
<text transform="translate(459.77,418.78) scale(1.54,1.23)" font-size="13.9">√</text>
<line x1="470.9" y1="405.6" x2="488.3" y2="405.6" stroke="#000" stroke-width="0.65"/>
<g transform="translate(262.2,192.75) rotate(-90)">
<text x="0" y="0" text-anchor="middle" font-size="15" >DOS</text>
</g>
<rect x="600.7" y="262.7" width="76.7" height="104.3" rx="2.2" fill="#fff" fill-opacity="0.8" stroke="#cacaca" stroke-width="1.15"/>
<text><tspan x="616.39" y="278.8" font-size="13.6">3</tspan><tspan x="623.86" y="278.8" font-size="13.9" font-style="italic">ϕ</tspan><tspan x="632.35" y="281" font-size="10.8">0</tspan><tspan x="639.47" y="282.4" font-size="20">/</tspan><tspan x="646.04" y="278.8" font-size="13.9" font-style="italic">r</tspan><tspan x="653.67" y="281.2" font-size="11" font-style="italic">N</tspan></text>
<line x1="605.2" y1="294.35" x2="636.2" y2="294.35" stroke="#1f77b4" stroke-width="2.08"/>
<text x="646" y="299.2" text-anchor="start" font-size="14.2" >0.01</text>
<line x1="605.2" y1="314.25" x2="636.2" y2="314.25" stroke="#ff7f0e" stroke-width="2.08"/>
<text x="646" y="319.1" text-anchor="start" font-size="14.2" >0.2</text>
<line x1="605.2" y1="334.15" x2="636.2" y2="334.15" stroke="#2ca02c" stroke-width="2.08"/>
<text x="646" y="339" text-anchor="start" font-size="14.2" >0.5</text>
<line x1="605.2" y1="354.05" x2="636.2" y2="354.05" stroke="#d62728" stroke-width="2.08"/>
<text x="646" y="358.9" text-anchor="start" font-size="14.2" >1.5</text>
</svg>
</body></html>
